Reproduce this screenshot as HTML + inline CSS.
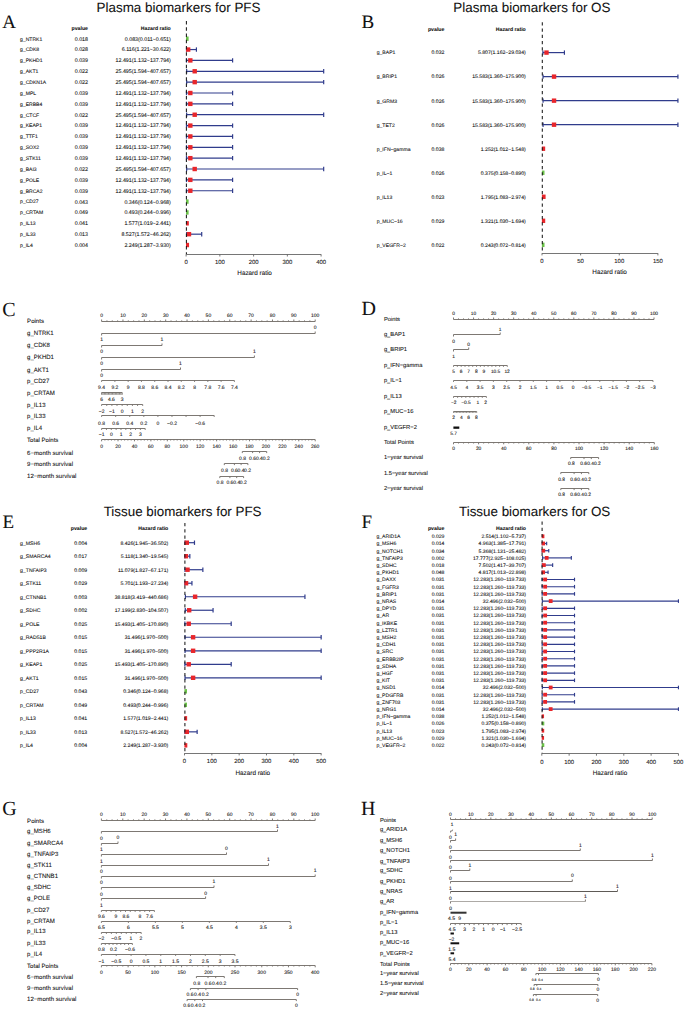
<!DOCTYPE html>
<html><head><meta charset="utf-8"><title>Biomarker forest plots and nomograms</title>
<style>
html,body{margin:0;padding:0;background:#fff;}
body{width:685px;height:1009px;overflow:hidden;}
svg{display:block;}
text{font-family:"Liberation Sans",sans-serif;fill:#111;text-rendering:geometricPrecision;stroke:#111;stroke-width:0.08px;}
text.lr{font-family:"Liberation Serif",serif;}
</style></head><body>
<svg width="685" height="1009" viewBox="0 0 685 1009">
<rect x="0" y="0" width="685" height="1009" fill="#fff"/>
<text x="96.60" y="11.53" font-size="13.42">Plasma biomarkers for PFS</text>
<text class="lr" x="2.30" y="28.30" font-size="19.00">A</text>
<text x="88.00" y="29.57" font-size="5.20" text-anchor="end" font-weight="bold">pvalue</text>
<text x="170.80" y="29.57" font-size="5.20" text-anchor="end" font-weight="bold">Hazard ratio</text>
<text x="20.10" y="40.52" font-size="5.05">g_NTRK1</text>
<text x="88.00" y="40.61" font-size="5.30" text-anchor="end">0.018</text>
<text x="170.80" y="40.61" font-size="5.30" text-anchor="end">0.083(0.011~0.651)</text>
<rect x="186.00" y="36.50" width="2.60" height="4.40" fill="#6cc24a"/>
<text x="20.10" y="51.38" font-size="5.05">g_CDK8</text>
<text x="88.00" y="51.47" font-size="5.30" text-anchor="end">0.028</text>
<text x="170.80" y="51.47" font-size="5.30" text-anchor="end">6.116(1.221~30.622)</text>
<line x1="186.51" y1="49.56" x2="196.43" y2="49.56" stroke="#303c8c" stroke-width="1.2"/>
<line x1="196.43" y1="47.36" x2="196.43" y2="51.76" stroke="#303c8c" stroke-width="1.2"/>
<line x1="186.51" y1="47.36" x2="186.51" y2="51.76" stroke="#303c8c" stroke-width="1.2"/>
<rect x="186.00" y="47.36" width="4.36" height="4.40" fill="#e8262b"/>
<text x="20.10" y="62.24" font-size="5.05">g_PKHD1</text>
<text x="88.00" y="62.33" font-size="5.30" text-anchor="end">0.039</text>
<text x="170.80" y="62.33" font-size="5.30" text-anchor="end">12.491(1.132~137.794)</text>
<line x1="186.48" y1="60.42" x2="232.61" y2="60.42" stroke="#303c8c" stroke-width="1.2"/>
<line x1="232.61" y1="58.22" x2="232.61" y2="62.62" stroke="#303c8c" stroke-width="1.2"/>
<line x1="186.48" y1="58.22" x2="186.48" y2="62.62" stroke="#303c8c" stroke-width="1.2"/>
<rect x="188.12" y="58.22" width="4.40" height="4.40" fill="#e8262b"/>
<text x="20.10" y="73.10" font-size="5.05">g_AKT1</text>
<text x="88.00" y="73.19" font-size="5.30" text-anchor="end">0.022</text>
<text x="170.80" y="73.19" font-size="5.30" text-anchor="end">25.495(1.594~407.657)</text>
<line x1="186.64" y1="71.28" x2="323.68" y2="71.28" stroke="#303c8c" stroke-width="1.2"/>
<line x1="323.68" y1="69.08" x2="323.68" y2="73.48" stroke="#303c8c" stroke-width="1.2"/>
<line x1="186.64" y1="69.08" x2="186.64" y2="73.48" stroke="#303c8c" stroke-width="1.2"/>
<rect x="192.50" y="69.08" width="4.40" height="4.40" fill="#e8262b"/>
<text x="20.10" y="83.96" font-size="5.05">g_CDKN1A</text>
<text x="88.00" y="84.05" font-size="5.30" text-anchor="end">0.022</text>
<text x="170.80" y="84.05" font-size="5.30" text-anchor="end">25.495(1.594~407.657)</text>
<line x1="186.64" y1="82.14" x2="323.68" y2="82.14" stroke="#303c8c" stroke-width="1.2"/>
<line x1="323.68" y1="79.94" x2="323.68" y2="84.34" stroke="#303c8c" stroke-width="1.2"/>
<line x1="186.64" y1="79.94" x2="186.64" y2="84.34" stroke="#303c8c" stroke-width="1.2"/>
<rect x="192.50" y="79.94" width="4.40" height="4.40" fill="#e8262b"/>
<text x="20.10" y="94.82" font-size="5.05">g_MPL</text>
<text x="88.00" y="94.91" font-size="5.30" text-anchor="end">0.039</text>
<text x="170.80" y="94.91" font-size="5.30" text-anchor="end">12.491(1.132~137.794)</text>
<line x1="186.48" y1="93.00" x2="232.61" y2="93.00" stroke="#303c8c" stroke-width="1.2"/>
<line x1="232.61" y1="90.80" x2="232.61" y2="95.20" stroke="#303c8c" stroke-width="1.2"/>
<line x1="186.48" y1="90.80" x2="186.48" y2="95.20" stroke="#303c8c" stroke-width="1.2"/>
<rect x="188.12" y="90.80" width="4.40" height="4.40" fill="#e8262b"/>
<text x="20.10" y="105.68" font-size="5.05">g_ERBB4</text>
<text x="88.00" y="105.77" font-size="5.30" text-anchor="end">0.039</text>
<text x="170.80" y="105.77" font-size="5.30" text-anchor="end">12.491(1.132~137.794)</text>
<line x1="186.48" y1="103.86" x2="232.61" y2="103.86" stroke="#303c8c" stroke-width="1.2"/>
<line x1="232.61" y1="101.66" x2="232.61" y2="106.06" stroke="#303c8c" stroke-width="1.2"/>
<line x1="186.48" y1="101.66" x2="186.48" y2="106.06" stroke="#303c8c" stroke-width="1.2"/>
<rect x="188.12" y="101.66" width="4.40" height="4.40" fill="#e8262b"/>
<text x="20.10" y="116.54" font-size="5.05">g_CTCF</text>
<text x="88.00" y="116.63" font-size="5.30" text-anchor="end">0.022</text>
<text x="170.80" y="116.63" font-size="5.30" text-anchor="end">25.495(1.594~407.657)</text>
<line x1="186.64" y1="114.72" x2="323.68" y2="114.72" stroke="#303c8c" stroke-width="1.2"/>
<line x1="323.68" y1="112.52" x2="323.68" y2="116.92" stroke="#303c8c" stroke-width="1.2"/>
<line x1="186.64" y1="112.52" x2="186.64" y2="116.92" stroke="#303c8c" stroke-width="1.2"/>
<rect x="192.50" y="112.52" width="4.40" height="4.40" fill="#e8262b"/>
<text x="20.10" y="127.40" font-size="5.05">g_KEAP1</text>
<text x="88.00" y="127.49" font-size="5.30" text-anchor="end">0.039</text>
<text x="170.80" y="127.49" font-size="5.30" text-anchor="end">12.491(1.132~137.794)</text>
<line x1="186.48" y1="125.58" x2="232.61" y2="125.58" stroke="#303c8c" stroke-width="1.2"/>
<line x1="232.61" y1="123.38" x2="232.61" y2="127.78" stroke="#303c8c" stroke-width="1.2"/>
<line x1="186.48" y1="123.38" x2="186.48" y2="127.78" stroke="#303c8c" stroke-width="1.2"/>
<rect x="188.12" y="123.38" width="4.40" height="4.40" fill="#e8262b"/>
<text x="20.10" y="138.26" font-size="5.05">g_TTF1</text>
<text x="88.00" y="138.35" font-size="5.30" text-anchor="end">0.039</text>
<text x="170.80" y="138.35" font-size="5.30" text-anchor="end">12.491(1.132~137.794)</text>
<line x1="186.48" y1="136.44" x2="232.61" y2="136.44" stroke="#303c8c" stroke-width="1.2"/>
<line x1="232.61" y1="134.24" x2="232.61" y2="138.64" stroke="#303c8c" stroke-width="1.2"/>
<line x1="186.48" y1="134.24" x2="186.48" y2="138.64" stroke="#303c8c" stroke-width="1.2"/>
<rect x="188.12" y="134.24" width="4.40" height="4.40" fill="#e8262b"/>
<text x="20.10" y="149.12" font-size="5.05">g_SOX2</text>
<text x="88.00" y="149.21" font-size="5.30" text-anchor="end">0.039</text>
<text x="170.80" y="149.21" font-size="5.30" text-anchor="end">12.491(1.132~137.794)</text>
<line x1="186.48" y1="147.30" x2="232.61" y2="147.30" stroke="#303c8c" stroke-width="1.2"/>
<line x1="232.61" y1="145.10" x2="232.61" y2="149.50" stroke="#303c8c" stroke-width="1.2"/>
<line x1="186.48" y1="145.10" x2="186.48" y2="149.50" stroke="#303c8c" stroke-width="1.2"/>
<rect x="188.12" y="145.10" width="4.40" height="4.40" fill="#e8262b"/>
<text x="20.10" y="159.98" font-size="5.05">g_STK11</text>
<text x="88.00" y="160.07" font-size="5.30" text-anchor="end">0.039</text>
<text x="170.80" y="160.07" font-size="5.30" text-anchor="end">12.491(1.132~137.794)</text>
<line x1="186.48" y1="158.16" x2="232.61" y2="158.16" stroke="#303c8c" stroke-width="1.2"/>
<line x1="232.61" y1="155.96" x2="232.61" y2="160.36" stroke="#303c8c" stroke-width="1.2"/>
<line x1="186.48" y1="155.96" x2="186.48" y2="160.36" stroke="#303c8c" stroke-width="1.2"/>
<rect x="188.12" y="155.96" width="4.40" height="4.40" fill="#e8262b"/>
<text x="20.10" y="170.84" font-size="5.05">g_BAI3</text>
<text x="88.00" y="170.93" font-size="5.30" text-anchor="end">0.022</text>
<text x="170.80" y="170.93" font-size="5.30" text-anchor="end">25.495(1.594~407.657)</text>
<line x1="186.64" y1="169.02" x2="323.68" y2="169.02" stroke="#303c8c" stroke-width="1.2"/>
<line x1="323.68" y1="166.82" x2="323.68" y2="171.22" stroke="#303c8c" stroke-width="1.2"/>
<line x1="186.64" y1="166.82" x2="186.64" y2="171.22" stroke="#303c8c" stroke-width="1.2"/>
<rect x="192.50" y="166.82" width="4.40" height="4.40" fill="#e8262b"/>
<text x="20.10" y="181.70" font-size="5.05">g_POLE</text>
<text x="88.00" y="181.79" font-size="5.30" text-anchor="end">0.039</text>
<text x="170.80" y="181.79" font-size="5.30" text-anchor="end">12.491(1.132~137.794)</text>
<line x1="186.48" y1="179.88" x2="232.61" y2="179.88" stroke="#303c8c" stroke-width="1.2"/>
<line x1="232.61" y1="177.68" x2="232.61" y2="182.08" stroke="#303c8c" stroke-width="1.2"/>
<line x1="186.48" y1="177.68" x2="186.48" y2="182.08" stroke="#303c8c" stroke-width="1.2"/>
<rect x="188.12" y="177.68" width="4.40" height="4.40" fill="#e8262b"/>
<text x="20.10" y="192.56" font-size="5.05">g_BRCA2</text>
<text x="88.00" y="192.65" font-size="5.30" text-anchor="end">0.039</text>
<text x="170.80" y="192.65" font-size="5.30" text-anchor="end">12.491(1.132~137.794)</text>
<line x1="186.48" y1="190.74" x2="232.61" y2="190.74" stroke="#303c8c" stroke-width="1.2"/>
<line x1="232.61" y1="188.54" x2="232.61" y2="192.94" stroke="#303c8c" stroke-width="1.2"/>
<line x1="186.48" y1="188.54" x2="186.48" y2="192.94" stroke="#303c8c" stroke-width="1.2"/>
<rect x="188.12" y="188.54" width="4.40" height="4.40" fill="#e8262b"/>
<text x="20.10" y="203.42" font-size="5.05">p_CD27</text>
<text x="88.00" y="203.51" font-size="5.30" text-anchor="end">0.043</text>
<text x="170.80" y="203.51" font-size="5.30" text-anchor="end">0.346(0.124~0.968)</text>
<rect x="186.00" y="199.40" width="2.60" height="4.40" fill="#6cc24a"/>
<text x="20.10" y="214.28" font-size="5.05">p_CRTAM</text>
<text x="88.00" y="214.37" font-size="5.30" text-anchor="end">0.049</text>
<text x="170.80" y="214.37" font-size="5.30" text-anchor="end">0.493(0.244~0.996)</text>
<rect x="186.00" y="210.26" width="2.60" height="4.40" fill="#6cc24a"/>
<text x="20.10" y="225.14" font-size="5.05">p_IL13</text>
<text x="88.00" y="225.23" font-size="5.30" text-anchor="end">0.041</text>
<text x="170.80" y="225.23" font-size="5.30" text-anchor="end">1.577(1.019~2.441)</text>
<rect x="186.00" y="221.12" width="2.83" height="4.40" fill="#e8262b"/>
<text x="20.10" y="236.00" font-size="5.05">p_IL33</text>
<text x="88.00" y="236.09" font-size="5.30" text-anchor="end">0.013</text>
<text x="170.80" y="236.09" font-size="5.30" text-anchor="end">8.527(1.572~46.262)</text>
<line x1="186.63" y1="234.18" x2="201.71" y2="234.18" stroke="#303c8c" stroke-width="1.2"/>
<line x1="201.71" y1="231.98" x2="201.71" y2="236.38" stroke="#303c8c" stroke-width="1.2"/>
<line x1="186.63" y1="231.98" x2="186.63" y2="236.38" stroke="#303c8c" stroke-width="1.2"/>
<rect x="186.78" y="231.98" width="4.40" height="4.40" fill="#e8262b"/>
<text x="20.10" y="246.86" font-size="5.05">p_IL4</text>
<text x="88.00" y="246.95" font-size="5.30" text-anchor="end">0.004</text>
<text x="170.80" y="246.95" font-size="5.30" text-anchor="end">2.249(1.287~3.930)</text>
<rect x="186.00" y="242.84" width="3.06" height="4.40" fill="#e8262b"/>
<line x1="186.40" y1="21.10" x2="186.40" y2="254.30" stroke="#1a1a1a" stroke-width="1.05" stroke-dasharray="3.3,2.95"/>
<line x1="186.10" y1="254.50" x2="321.10" y2="254.50" stroke="#666" stroke-width="0.9"/>
<line x1="186.10" y1="254.30" x2="186.10" y2="256.50" stroke="#666" stroke-width="0.9"/>
<text x="186.10" y="263.74" font-size="5.95" text-anchor="middle">0</text>
<line x1="219.85" y1="254.30" x2="219.85" y2="256.50" stroke="#666" stroke-width="0.9"/>
<text x="219.85" y="263.74" font-size="5.95" text-anchor="middle">100</text>
<line x1="253.60" y1="254.30" x2="253.60" y2="256.50" stroke="#666" stroke-width="0.9"/>
<text x="253.60" y="263.74" font-size="5.95" text-anchor="middle">200</text>
<line x1="287.35" y1="254.30" x2="287.35" y2="256.50" stroke="#666" stroke-width="0.9"/>
<text x="287.35" y="263.74" font-size="5.95" text-anchor="middle">300</text>
<line x1="321.10" y1="254.30" x2="321.10" y2="256.50" stroke="#666" stroke-width="0.9"/>
<text x="321.10" y="263.74" font-size="5.95" text-anchor="middle">400</text>
<text x="254.60" y="275.29" font-size="6.35" text-anchor="middle">Hazard ratio</text>
<text x="453.30" y="11.53" font-size="13.42">Plasma biomarkers for OS</text>
<text class="lr" x="361.60" y="28.40" font-size="19.00">B</text>
<text x="444.40" y="30.97" font-size="5.20" text-anchor="end" font-weight="bold">pvalue</text>
<text x="525.80" y="30.97" font-size="5.20" text-anchor="end" font-weight="bold">Hazard ratio</text>
<text x="376.70" y="54.44" font-size="5.10">g_BAP1</text>
<text x="444.40" y="54.45" font-size="5.15" text-anchor="end">0.032</text>
<text x="525.80" y="54.45" font-size="5.15" text-anchor="end">5.807(1.162~29.034)</text>
<line x1="542.90" y1="52.60" x2="564.43" y2="52.60" stroke="#303c8c" stroke-width="1.2"/>
<line x1="564.43" y1="50.40" x2="564.43" y2="54.80" stroke="#303c8c" stroke-width="1.2"/>
<line x1="542.90" y1="50.40" x2="542.90" y2="54.80" stroke="#303c8c" stroke-width="1.2"/>
<rect x="544.29" y="50.40" width="4.40" height="4.40" fill="#e8262b"/>
<text x="376.70" y="78.47" font-size="5.10">g_BRIP1</text>
<text x="444.40" y="78.48" font-size="5.15" text-anchor="end">0.026</text>
<text x="525.80" y="78.48" font-size="5.15" text-anchor="end">15.583(1.360~175.900)</text>
<line x1="543.05" y1="76.63" x2="677.92" y2="76.63" stroke="#303c8c" stroke-width="1.2"/>
<line x1="677.92" y1="74.43" x2="677.92" y2="78.83" stroke="#303c8c" stroke-width="1.2"/>
<line x1="543.05" y1="74.43" x2="543.05" y2="78.83" stroke="#303c8c" stroke-width="1.2"/>
<rect x="551.84" y="74.43" width="4.40" height="4.40" fill="#e8262b"/>
<text x="376.70" y="102.50" font-size="5.10">g_GRM3</text>
<text x="444.40" y="102.51" font-size="5.15" text-anchor="end">0.026</text>
<text x="525.80" y="102.51" font-size="5.15" text-anchor="end">15.583(1.360~175.900)</text>
<line x1="543.05" y1="100.66" x2="677.92" y2="100.66" stroke="#303c8c" stroke-width="1.2"/>
<line x1="677.92" y1="98.46" x2="677.92" y2="102.86" stroke="#303c8c" stroke-width="1.2"/>
<line x1="543.05" y1="98.46" x2="543.05" y2="102.86" stroke="#303c8c" stroke-width="1.2"/>
<rect x="551.84" y="98.46" width="4.40" height="4.40" fill="#e8262b"/>
<text x="376.70" y="126.53" font-size="5.10">g_TET2</text>
<text x="444.40" y="126.54" font-size="5.15" text-anchor="end">0.026</text>
<text x="525.80" y="126.54" font-size="5.15" text-anchor="end">15.583(1.360~175.900)</text>
<line x1="543.05" y1="124.69" x2="677.92" y2="124.69" stroke="#303c8c" stroke-width="1.2"/>
<line x1="677.92" y1="122.49" x2="677.92" y2="126.89" stroke="#303c8c" stroke-width="1.2"/>
<line x1="543.05" y1="122.49" x2="543.05" y2="126.89" stroke="#303c8c" stroke-width="1.2"/>
<rect x="551.84" y="122.49" width="4.40" height="4.40" fill="#e8262b"/>
<text x="376.70" y="150.56" font-size="5.10">p_IFN−gamma</text>
<text x="444.40" y="150.57" font-size="5.15" text-anchor="end">0.038</text>
<text x="525.80" y="150.57" font-size="5.15" text-anchor="end">1.252(1.012~1.548)</text>
<rect x="541.90" y="146.52" width="3.27" height="4.40" fill="#e8262b"/>
<text x="376.70" y="174.59" font-size="5.10">p_IL−1</text>
<text x="444.40" y="174.60" font-size="5.15" text-anchor="end">0.026</text>
<text x="525.80" y="174.60" font-size="5.15" text-anchor="end">0.375(0.158~0.890)</text>
<rect x="541.90" y="170.55" width="2.60" height="4.40" fill="#6cc24a"/>
<text x="376.70" y="198.62" font-size="5.10">p_IL13</text>
<text x="444.40" y="198.63" font-size="5.15" text-anchor="end">0.023</text>
<text x="525.80" y="198.63" font-size="5.15" text-anchor="end">1.795(1.083~2.974)</text>
<rect x="541.90" y="194.58" width="3.69" height="4.40" fill="#e8262b"/>
<text x="376.70" y="222.65" font-size="5.10">p_MUC−16</text>
<text x="444.40" y="222.66" font-size="5.15" text-anchor="end">0.029</text>
<text x="525.80" y="222.66" font-size="5.15" text-anchor="end">1.321(1.030~1.694)</text>
<rect x="541.90" y="218.61" width="3.32" height="4.40" fill="#e8262b"/>
<text x="376.70" y="246.68" font-size="5.10">p_VEGFR−2</text>
<text x="444.40" y="246.69" font-size="5.15" text-anchor="end">0.022</text>
<text x="525.80" y="246.69" font-size="5.15" text-anchor="end">0.243(0.072~0.814)</text>
<rect x="541.90" y="242.64" width="2.60" height="4.40" fill="#6cc24a"/>
<line x1="542.30" y1="22.20" x2="542.30" y2="253.20" stroke="#1a1a1a" stroke-width="1.05" stroke-dasharray="3.3,2.95"/>
<line x1="542.00" y1="253.50" x2="657.90" y2="253.50" stroke="#666" stroke-width="0.9"/>
<line x1="542.00" y1="253.20" x2="542.00" y2="255.40" stroke="#666" stroke-width="0.9"/>
<text x="542.00" y="262.74" font-size="5.95" text-anchor="middle">0</text>
<line x1="580.63" y1="253.20" x2="580.63" y2="255.40" stroke="#666" stroke-width="0.9"/>
<text x="580.63" y="262.74" font-size="5.95" text-anchor="middle">50</text>
<line x1="619.27" y1="253.20" x2="619.27" y2="255.40" stroke="#666" stroke-width="0.9"/>
<text x="619.27" y="262.74" font-size="5.95" text-anchor="middle">100</text>
<line x1="657.90" y1="253.20" x2="657.90" y2="255.40" stroke="#666" stroke-width="0.9"/>
<text x="657.90" y="262.74" font-size="5.95" text-anchor="middle">150</text>
<text x="609.60" y="273.99" font-size="6.35" text-anchor="middle">Hazard ratio</text>
<text x="103.70" y="516.02" font-size="13.38">Tissue biomarkers for PFS</text>
<text class="lr" x="2.60" y="528.40" font-size="19.00">E</text>
<text x="87.20" y="530.27" font-size="5.20" text-anchor="end" font-weight="bold">pvalue</text>
<text x="168.30" y="530.27" font-size="5.20" text-anchor="end" font-weight="bold">Hazard ratio</text>
<text x="20.10" y="544.55" font-size="5.15">g_MSH6</text>
<text x="87.20" y="544.55" font-size="5.15" text-anchor="end">0.004</text>
<text x="168.30" y="544.55" font-size="5.15" text-anchor="end">8.426(1.945~36.502)</text>
<line x1="185.03" y1="542.70" x2="194.48" y2="542.70" stroke="#303c8c" stroke-width="1.2"/>
<line x1="194.48" y1="540.50" x2="194.48" y2="544.90" stroke="#303c8c" stroke-width="1.2"/>
<line x1="185.03" y1="540.50" x2="185.03" y2="544.90" stroke="#303c8c" stroke-width="1.2"/>
<rect x="184.60" y="540.50" width="4.40" height="4.40" fill="#e8262b"/>
<text x="20.10" y="558.06" font-size="5.15">g_SMARCA4</text>
<text x="87.20" y="558.06" font-size="5.15" text-anchor="end">0.017</text>
<text x="168.30" y="558.06" font-size="5.15" text-anchor="end">5.118(1.340~19.545)</text>
<line x1="184.87" y1="556.21" x2="189.84" y2="556.21" stroke="#303c8c" stroke-width="1.2"/>
<line x1="189.84" y1="554.01" x2="189.84" y2="558.41" stroke="#303c8c" stroke-width="1.2"/>
<line x1="184.87" y1="554.01" x2="184.87" y2="558.41" stroke="#303c8c" stroke-width="1.2"/>
<rect x="184.40" y="554.01" width="3.70" height="4.40" fill="#e8262b"/>
<text x="20.10" y="571.57" font-size="5.15">g_TNFAIP3</text>
<text x="87.20" y="571.57" font-size="5.15" text-anchor="end">0.009</text>
<text x="168.30" y="571.57" font-size="5.15" text-anchor="end">11.079(1.827~67.171)</text>
<line x1="185.00" y1="569.72" x2="202.86" y2="569.72" stroke="#303c8c" stroke-width="1.2"/>
<line x1="202.86" y1="567.52" x2="202.86" y2="571.92" stroke="#303c8c" stroke-width="1.2"/>
<line x1="185.00" y1="567.52" x2="185.00" y2="571.92" stroke="#303c8c" stroke-width="1.2"/>
<rect x="185.33" y="567.52" width="4.40" height="4.40" fill="#e8262b"/>
<text x="20.10" y="585.08" font-size="5.15">g_STK11</text>
<text x="87.20" y="585.08" font-size="5.15" text-anchor="end">0.029</text>
<text x="168.30" y="585.08" font-size="5.15" text-anchor="end">5.701(1.193~27.234)</text>
<line x1="184.83" y1="583.23" x2="191.94" y2="583.23" stroke="#303c8c" stroke-width="1.2"/>
<line x1="191.94" y1="581.03" x2="191.94" y2="585.43" stroke="#303c8c" stroke-width="1.2"/>
<line x1="184.83" y1="581.03" x2="184.83" y2="585.43" stroke="#303c8c" stroke-width="1.2"/>
<rect x="184.40" y="581.03" width="3.86" height="4.40" fill="#e8262b"/>
<text x="20.10" y="598.59" font-size="5.15">g_CTNNB1</text>
<text x="87.20" y="598.59" font-size="5.15" text-anchor="end">0.003</text>
<text x="168.30" y="598.59" font-size="5.15" text-anchor="end">38.818(3.419~440.686)</text>
<line x1="185.43" y1="596.74" x2="304.94" y2="596.74" stroke="#303c8c" stroke-width="1.2"/>
<line x1="304.94" y1="594.54" x2="304.94" y2="598.94" stroke="#303c8c" stroke-width="1.2"/>
<line x1="185.43" y1="594.54" x2="185.43" y2="598.94" stroke="#303c8c" stroke-width="1.2"/>
<rect x="192.91" y="594.54" width="4.40" height="4.40" fill="#e8262b"/>
<text x="20.10" y="612.10" font-size="5.15">g_SDHC</text>
<text x="87.20" y="612.10" font-size="5.15" text-anchor="end">0.002</text>
<text x="168.30" y="612.10" font-size="5.15" text-anchor="end">17.199(2.830~104.507)</text>
<line x1="185.27" y1="610.25" x2="213.06" y2="610.25" stroke="#303c8c" stroke-width="1.2"/>
<line x1="213.06" y1="608.05" x2="213.06" y2="612.45" stroke="#303c8c" stroke-width="1.2"/>
<line x1="185.27" y1="608.05" x2="185.27" y2="612.45" stroke="#303c8c" stroke-width="1.2"/>
<rect x="187.00" y="608.05" width="4.40" height="4.40" fill="#e8262b"/>
<text x="20.10" y="625.61" font-size="5.15">g_POLE</text>
<text x="87.20" y="625.61" font-size="5.15" text-anchor="end">0.025</text>
<text x="168.30" y="625.61" font-size="5.15" text-anchor="end">15.493(1.405~170.890)</text>
<line x1="184.88" y1="623.76" x2="231.20" y2="623.76" stroke="#303c8c" stroke-width="1.2"/>
<line x1="231.20" y1="621.56" x2="231.20" y2="625.96" stroke="#303c8c" stroke-width="1.2"/>
<line x1="184.88" y1="621.56" x2="184.88" y2="625.96" stroke="#303c8c" stroke-width="1.2"/>
<rect x="186.53" y="621.56" width="4.40" height="4.40" fill="#e8262b"/>
<text x="20.10" y="639.12" font-size="5.15">g_RAD51B</text>
<text x="87.20" y="639.12" font-size="5.15" text-anchor="end">0.015</text>
<text x="168.30" y="639.12" font-size="5.15" text-anchor="end">31.496(1.970~500)</text>
<line x1="185.04" y1="637.27" x2="321.15" y2="637.27" stroke="#303c8c" stroke-width="1.2"/>
<line x1="321.15" y1="635.07" x2="321.15" y2="639.47" stroke="#303c8c" stroke-width="1.2"/>
<line x1="185.04" y1="635.07" x2="185.04" y2="639.47" stroke="#303c8c" stroke-width="1.2"/>
<rect x="190.91" y="635.07" width="4.40" height="4.40" fill="#e8262b"/>
<text x="20.10" y="652.63" font-size="5.15">g_PPP2R1A</text>
<text x="87.20" y="652.63" font-size="5.15" text-anchor="end">0.015</text>
<text x="168.30" y="652.63" font-size="5.15" text-anchor="end">31.496(1.970~500)</text>
<line x1="185.04" y1="650.78" x2="321.15" y2="650.78" stroke="#303c8c" stroke-width="1.2"/>
<line x1="321.15" y1="648.58" x2="321.15" y2="652.98" stroke="#303c8c" stroke-width="1.2"/>
<line x1="185.04" y1="648.58" x2="185.04" y2="652.98" stroke="#303c8c" stroke-width="1.2"/>
<rect x="190.91" y="648.58" width="4.40" height="4.40" fill="#e8262b"/>
<text x="20.10" y="666.14" font-size="5.15">g_KEAP1</text>
<text x="87.20" y="666.14" font-size="5.15" text-anchor="end">0.025</text>
<text x="168.30" y="666.14" font-size="5.15" text-anchor="end">15.493(1.405~170.890)</text>
<line x1="184.88" y1="664.29" x2="231.20" y2="664.29" stroke="#303c8c" stroke-width="1.2"/>
<line x1="231.20" y1="662.09" x2="231.20" y2="666.49" stroke="#303c8c" stroke-width="1.2"/>
<line x1="184.88" y1="662.09" x2="184.88" y2="666.49" stroke="#303c8c" stroke-width="1.2"/>
<rect x="186.53" y="662.09" width="4.40" height="4.40" fill="#e8262b"/>
<text x="20.10" y="679.65" font-size="5.15">g_AKT1</text>
<text x="87.20" y="679.65" font-size="5.15" text-anchor="end">0.015</text>
<text x="168.30" y="679.65" font-size="5.15" text-anchor="end">31.496(1.970~500)</text>
<line x1="185.04" y1="677.80" x2="321.15" y2="677.80" stroke="#303c8c" stroke-width="1.2"/>
<line x1="321.15" y1="675.60" x2="321.15" y2="680.00" stroke="#303c8c" stroke-width="1.2"/>
<line x1="185.04" y1="675.60" x2="185.04" y2="680.00" stroke="#303c8c" stroke-width="1.2"/>
<rect x="190.91" y="675.60" width="4.40" height="4.40" fill="#e8262b"/>
<text x="20.10" y="693.16" font-size="5.15">p_CD27</text>
<text x="87.20" y="693.16" font-size="5.15" text-anchor="end">0.043</text>
<text x="168.30" y="693.16" font-size="5.15" text-anchor="end">0.346(0.124~0.968)</text>
<rect x="184.40" y="689.11" width="2.60" height="4.40" fill="#6cc24a"/>
<text x="20.10" y="706.67" font-size="5.15">p_CRTAM</text>
<text x="87.20" y="706.67" font-size="5.15" text-anchor="end">0.049</text>
<text x="168.30" y="706.67" font-size="5.15" text-anchor="end">0.493(0.244~0.996)</text>
<rect x="184.40" y="702.62" width="2.60" height="4.40" fill="#6cc24a"/>
<text x="20.10" y="720.18" font-size="5.15">p_IL13</text>
<text x="87.20" y="720.18" font-size="5.15" text-anchor="end">0.041</text>
<text x="168.30" y="720.18" font-size="5.15" text-anchor="end">1.577(1.019~2.441)</text>
<rect x="184.40" y="716.13" width="2.73" height="4.40" fill="#e8262b"/>
<text x="20.10" y="733.69" font-size="5.15">p_IL33</text>
<text x="87.20" y="733.69" font-size="5.15" text-anchor="end">0.013</text>
<text x="168.30" y="733.69" font-size="5.15" text-anchor="end">8.527(1.572~46.262)</text>
<line x1="184.93" y1="731.84" x2="197.14" y2="731.84" stroke="#303c8c" stroke-width="1.2"/>
<line x1="197.14" y1="729.64" x2="197.14" y2="734.04" stroke="#303c8c" stroke-width="1.2"/>
<line x1="184.93" y1="729.64" x2="184.93" y2="734.04" stroke="#303c8c" stroke-width="1.2"/>
<rect x="184.63" y="729.64" width="4.40" height="4.40" fill="#e8262b"/>
<text x="20.10" y="747.20" font-size="5.15">p_IL4</text>
<text x="87.20" y="747.20" font-size="5.15" text-anchor="end">0.004</text>
<text x="168.30" y="747.20" font-size="5.15" text-anchor="end">2.249(1.287~3.930)</text>
<rect x="184.40" y="743.15" width="2.91" height="4.40" fill="#e8262b"/>
<line x1="184.90" y1="523.00" x2="184.90" y2="753.20" stroke="#1a1a1a" stroke-width="1.05" stroke-dasharray="3.3,2.95"/>
<line x1="184.50" y1="753.50" x2="321.15" y2="753.50" stroke="#666" stroke-width="0.9"/>
<line x1="184.50" y1="753.20" x2="184.50" y2="755.40" stroke="#666" stroke-width="0.9"/>
<text x="184.50" y="763.04" font-size="5.95" text-anchor="middle">0</text>
<line x1="211.83" y1="753.20" x2="211.83" y2="755.40" stroke="#666" stroke-width="0.9"/>
<text x="211.83" y="763.04" font-size="5.95" text-anchor="middle">100</text>
<line x1="239.16" y1="753.20" x2="239.16" y2="755.40" stroke="#666" stroke-width="0.9"/>
<text x="239.16" y="763.04" font-size="5.95" text-anchor="middle">200</text>
<line x1="266.49" y1="753.20" x2="266.49" y2="755.40" stroke="#666" stroke-width="0.9"/>
<text x="266.49" y="763.04" font-size="5.95" text-anchor="middle">300</text>
<line x1="293.82" y1="753.20" x2="293.82" y2="755.40" stroke="#666" stroke-width="0.9"/>
<text x="293.82" y="763.04" font-size="5.95" text-anchor="middle">400</text>
<line x1="321.15" y1="753.20" x2="321.15" y2="755.40" stroke="#666" stroke-width="0.9"/>
<text x="321.15" y="763.04" font-size="5.95" text-anchor="middle">500</text>
<text x="252.80" y="774.79" font-size="6.35" text-anchor="middle">Hazard ratio</text>
<text x="459.00" y="516.02" font-size="13.40">Tissue biomarkers for OS</text>
<text class="lr" x="361.60" y="528.10" font-size="19.00">F</text>
<text x="444.40" y="530.27" font-size="5.20" text-anchor="end" font-weight="bold">pvalue</text>
<text x="526.00" y="530.27" font-size="5.20" text-anchor="end" font-weight="bold">Hazard ratio</text>
<text x="376.40" y="538.14" font-size="5.10">g_ARID1A</text>
<text x="444.40" y="538.14" font-size="5.10" text-anchor="end">0.029</text>
<text x="526.00" y="538.14" font-size="5.10" text-anchor="end">2.514(1.102~5.737)</text>
<rect x="541.70" y="534.40" width="2.69" height="3.80" fill="#e8262b"/>
<text x="376.40" y="545.34" font-size="5.10">g_MSH6</text>
<text x="444.40" y="545.34" font-size="5.10" text-anchor="end">0.014</text>
<text x="526.00" y="545.34" font-size="5.10" text-anchor="end">4.963(1.385~17.791)</text>
<line x1="542.18" y1="543.50" x2="546.66" y2="543.50" stroke="#303c8c" stroke-width="1.15"/>
<line x1="546.66" y1="541.70" x2="546.66" y2="545.30" stroke="#303c8c" stroke-width="1.15"/>
<line x1="542.18" y1="541.70" x2="542.18" y2="545.30" stroke="#303c8c" stroke-width="1.15"/>
<rect x="541.70" y="541.60" width="3.36" height="3.80" fill="#e8262b"/>
<text x="376.40" y="552.54" font-size="5.10">g_NOTCH1</text>
<text x="444.40" y="552.54" font-size="5.10" text-anchor="end">0.034</text>
<text x="526.00" y="552.54" font-size="5.10" text-anchor="end">5.368(1.131~25.482)</text>
<line x1="542.11" y1="550.70" x2="548.76" y2="550.70" stroke="#303c8c" stroke-width="1.15"/>
<line x1="548.76" y1="548.90" x2="548.76" y2="552.50" stroke="#303c8c" stroke-width="1.15"/>
<line x1="542.11" y1="548.90" x2="542.11" y2="552.50" stroke="#303c8c" stroke-width="1.15"/>
<rect x="541.70" y="548.80" width="3.47" height="3.80" fill="#e8262b"/>
<text x="376.40" y="559.74" font-size="5.10">g_TNFAIP3</text>
<text x="444.40" y="559.74" font-size="5.10" text-anchor="end">0.002</text>
<text x="526.00" y="559.74" font-size="5.10" text-anchor="end">17.777(2.925~108.025)</text>
<line x1="542.60" y1="557.90" x2="571.32" y2="557.90" stroke="#303c8c" stroke-width="1.15"/>
<line x1="571.32" y1="556.10" x2="571.32" y2="559.70" stroke="#303c8c" stroke-width="1.15"/>
<line x1="542.60" y1="556.10" x2="542.60" y2="559.70" stroke="#303c8c" stroke-width="1.15"/>
<rect x="544.76" y="556.00" width="3.80" height="3.80" fill="#e8262b"/>
<text x="376.40" y="566.94" font-size="5.10">g_SDHC</text>
<text x="444.40" y="566.94" font-size="5.10" text-anchor="end">0.018</text>
<text x="526.00" y="566.94" font-size="5.10" text-anchor="end">7.502(1.417~39.707)</text>
<line x1="542.19" y1="565.10" x2="552.65" y2="565.10" stroke="#303c8c" stroke-width="1.15"/>
<line x1="552.65" y1="563.30" x2="552.65" y2="566.90" stroke="#303c8c" stroke-width="1.15"/>
<line x1="542.19" y1="563.30" x2="542.19" y2="566.90" stroke="#303c8c" stroke-width="1.15"/>
<rect x="541.95" y="563.20" width="3.80" height="3.80" fill="#e8262b"/>
<text x="376.40" y="574.14" font-size="5.10">g_PKHD1</text>
<text x="444.40" y="574.14" font-size="5.10" text-anchor="end">0.048</text>
<text x="526.00" y="574.14" font-size="5.10" text-anchor="end">4.817(1.013~22.898)</text>
<line x1="542.08" y1="572.30" x2="548.06" y2="572.30" stroke="#303c8c" stroke-width="1.15"/>
<line x1="548.06" y1="570.50" x2="548.06" y2="574.10" stroke="#303c8c" stroke-width="1.15"/>
<line x1="542.08" y1="570.50" x2="542.08" y2="574.10" stroke="#303c8c" stroke-width="1.15"/>
<rect x="541.70" y="570.40" width="3.32" height="3.80" fill="#e8262b"/>
<text x="376.40" y="581.34" font-size="5.10">g_DAXX</text>
<text x="444.40" y="581.34" font-size="5.10" text-anchor="end">0.031</text>
<text x="526.00" y="581.34" font-size="5.10" text-anchor="end">12.283(1.260~119.733)</text>
<line x1="542.14" y1="579.50" x2="574.52" y2="579.50" stroke="#303c8c" stroke-width="1.15"/>
<line x1="574.52" y1="577.70" x2="574.52" y2="581.30" stroke="#303c8c" stroke-width="1.15"/>
<line x1="542.14" y1="577.70" x2="542.14" y2="581.30" stroke="#303c8c" stroke-width="1.15"/>
<rect x="543.26" y="577.60" width="3.80" height="3.80" fill="#e8262b"/>
<text x="376.40" y="588.54" font-size="5.10">g_FGFR3</text>
<text x="444.40" y="588.54" font-size="5.10" text-anchor="end">0.031</text>
<text x="526.00" y="588.54" font-size="5.10" text-anchor="end">12.283(1.260~119.733)</text>
<line x1="542.14" y1="586.70" x2="574.52" y2="586.70" stroke="#303c8c" stroke-width="1.15"/>
<line x1="574.52" y1="584.90" x2="574.52" y2="588.50" stroke="#303c8c" stroke-width="1.15"/>
<line x1="542.14" y1="584.90" x2="542.14" y2="588.50" stroke="#303c8c" stroke-width="1.15"/>
<rect x="543.26" y="584.80" width="3.80" height="3.80" fill="#e8262b"/>
<text x="376.40" y="595.74" font-size="5.10">g_BRIP1</text>
<text x="444.40" y="595.74" font-size="5.10" text-anchor="end">0.031</text>
<text x="526.00" y="595.74" font-size="5.10" text-anchor="end">12.283(1.260~119.733)</text>
<line x1="542.14" y1="593.90" x2="574.52" y2="593.90" stroke="#303c8c" stroke-width="1.15"/>
<line x1="574.52" y1="592.10" x2="574.52" y2="595.70" stroke="#303c8c" stroke-width="1.15"/>
<line x1="542.14" y1="592.10" x2="542.14" y2="595.70" stroke="#303c8c" stroke-width="1.15"/>
<rect x="543.26" y="592.00" width="3.80" height="3.80" fill="#e8262b"/>
<text x="376.40" y="602.94" font-size="5.10">g_NRAS</text>
<text x="444.40" y="602.94" font-size="5.10" text-anchor="end">0.014</text>
<text x="526.00" y="602.94" font-size="5.10" text-anchor="end">32.496(2.032~500)</text>
<line x1="542.36" y1="601.10" x2="678.45" y2="601.10" stroke="#303c8c" stroke-width="1.15"/>
<line x1="678.45" y1="599.30" x2="678.45" y2="602.90" stroke="#303c8c" stroke-width="1.15"/>
<line x1="542.36" y1="599.30" x2="542.36" y2="602.90" stroke="#303c8c" stroke-width="1.15"/>
<rect x="548.78" y="599.20" width="3.80" height="3.80" fill="#e8262b"/>
<text x="376.40" y="610.14" font-size="5.10">g_DPYD</text>
<text x="444.40" y="610.14" font-size="5.10" text-anchor="end">0.031</text>
<text x="526.00" y="610.14" font-size="5.10" text-anchor="end">12.283(1.260~119.733)</text>
<line x1="542.14" y1="608.30" x2="574.52" y2="608.30" stroke="#303c8c" stroke-width="1.15"/>
<line x1="574.52" y1="606.50" x2="574.52" y2="610.10" stroke="#303c8c" stroke-width="1.15"/>
<line x1="542.14" y1="606.50" x2="542.14" y2="610.10" stroke="#303c8c" stroke-width="1.15"/>
<rect x="543.26" y="606.40" width="3.80" height="3.80" fill="#e8262b"/>
<text x="376.40" y="617.34" font-size="5.10">g_AR</text>
<text x="444.40" y="617.34" font-size="5.10" text-anchor="end">0.031</text>
<text x="526.00" y="617.34" font-size="5.10" text-anchor="end">12.283(1.260~119.733)</text>
<line x1="542.14" y1="615.50" x2="574.52" y2="615.50" stroke="#303c8c" stroke-width="1.15"/>
<line x1="574.52" y1="613.70" x2="574.52" y2="617.30" stroke="#303c8c" stroke-width="1.15"/>
<line x1="542.14" y1="613.70" x2="542.14" y2="617.30" stroke="#303c8c" stroke-width="1.15"/>
<rect x="543.26" y="613.60" width="3.80" height="3.80" fill="#e8262b"/>
<text x="376.40" y="624.54" font-size="5.10">g_IKBKE</text>
<text x="444.40" y="624.54" font-size="5.10" text-anchor="end">0.031</text>
<text x="526.00" y="624.54" font-size="5.10" text-anchor="end">12.283(1.260~119.733)</text>
<line x1="542.14" y1="622.70" x2="574.52" y2="622.70" stroke="#303c8c" stroke-width="1.15"/>
<line x1="574.52" y1="620.90" x2="574.52" y2="624.50" stroke="#303c8c" stroke-width="1.15"/>
<line x1="542.14" y1="620.90" x2="542.14" y2="624.50" stroke="#303c8c" stroke-width="1.15"/>
<rect x="543.26" y="620.80" width="3.80" height="3.80" fill="#e8262b"/>
<text x="376.40" y="631.74" font-size="5.10">g_LZTR1</text>
<text x="444.40" y="631.74" font-size="5.10" text-anchor="end">0.031</text>
<text x="526.00" y="631.74" font-size="5.10" text-anchor="end">12.283(1.260~119.733)</text>
<line x1="542.14" y1="629.90" x2="574.52" y2="629.90" stroke="#303c8c" stroke-width="1.15"/>
<line x1="574.52" y1="628.10" x2="574.52" y2="631.70" stroke="#303c8c" stroke-width="1.15"/>
<line x1="542.14" y1="628.10" x2="542.14" y2="631.70" stroke="#303c8c" stroke-width="1.15"/>
<rect x="543.26" y="628.00" width="3.80" height="3.80" fill="#e8262b"/>
<text x="376.40" y="638.94" font-size="5.10">g_MSH2</text>
<text x="444.40" y="638.94" font-size="5.10" text-anchor="end">0.031</text>
<text x="526.00" y="638.94" font-size="5.10" text-anchor="end">12.283(1.260~119.733)</text>
<line x1="542.14" y1="637.10" x2="574.52" y2="637.10" stroke="#303c8c" stroke-width="1.15"/>
<line x1="574.52" y1="635.30" x2="574.52" y2="638.90" stroke="#303c8c" stroke-width="1.15"/>
<line x1="542.14" y1="635.30" x2="542.14" y2="638.90" stroke="#303c8c" stroke-width="1.15"/>
<rect x="543.26" y="635.20" width="3.80" height="3.80" fill="#e8262b"/>
<text x="376.40" y="646.14" font-size="5.10">g_CDH1</text>
<text x="444.40" y="646.14" font-size="5.10" text-anchor="end">0.031</text>
<text x="526.00" y="646.14" font-size="5.10" text-anchor="end">12.283(1.260~119.733)</text>
<line x1="542.14" y1="644.30" x2="574.52" y2="644.30" stroke="#303c8c" stroke-width="1.15"/>
<line x1="574.52" y1="642.50" x2="574.52" y2="646.10" stroke="#303c8c" stroke-width="1.15"/>
<line x1="542.14" y1="642.50" x2="542.14" y2="646.10" stroke="#303c8c" stroke-width="1.15"/>
<rect x="543.26" y="642.40" width="3.80" height="3.80" fill="#e8262b"/>
<text x="376.40" y="653.34" font-size="5.10">g_SRC</text>
<text x="444.40" y="653.34" font-size="5.10" text-anchor="end">0.031</text>
<text x="526.00" y="653.34" font-size="5.10" text-anchor="end">12.283(1.260~119.733)</text>
<line x1="542.14" y1="651.50" x2="574.52" y2="651.50" stroke="#303c8c" stroke-width="1.15"/>
<line x1="574.52" y1="649.70" x2="574.52" y2="653.30" stroke="#303c8c" stroke-width="1.15"/>
<line x1="542.14" y1="649.70" x2="542.14" y2="653.30" stroke="#303c8c" stroke-width="1.15"/>
<rect x="543.26" y="649.60" width="3.80" height="3.80" fill="#e8262b"/>
<text x="376.40" y="660.54" font-size="5.10">g_ERBB2IP</text>
<text x="444.40" y="660.54" font-size="5.10" text-anchor="end">0.031</text>
<text x="526.00" y="660.54" font-size="5.10" text-anchor="end">12.283(1.260~119.733)</text>
<line x1="542.14" y1="658.70" x2="574.52" y2="658.70" stroke="#303c8c" stroke-width="1.15"/>
<line x1="574.52" y1="656.90" x2="574.52" y2="660.50" stroke="#303c8c" stroke-width="1.15"/>
<line x1="542.14" y1="656.90" x2="542.14" y2="660.50" stroke="#303c8c" stroke-width="1.15"/>
<rect x="543.26" y="656.80" width="3.80" height="3.80" fill="#e8262b"/>
<text x="376.40" y="667.74" font-size="5.10">g_SDHA</text>
<text x="444.40" y="667.74" font-size="5.10" text-anchor="end">0.031</text>
<text x="526.00" y="667.74" font-size="5.10" text-anchor="end">12.283(1.260~119.733)</text>
<line x1="542.14" y1="665.90" x2="574.52" y2="665.90" stroke="#303c8c" stroke-width="1.15"/>
<line x1="574.52" y1="664.10" x2="574.52" y2="667.70" stroke="#303c8c" stroke-width="1.15"/>
<line x1="542.14" y1="664.10" x2="542.14" y2="667.70" stroke="#303c8c" stroke-width="1.15"/>
<rect x="543.26" y="664.00" width="3.80" height="3.80" fill="#e8262b"/>
<text x="376.40" y="674.94" font-size="5.10">g_HGF</text>
<text x="444.40" y="674.94" font-size="5.10" text-anchor="end">0.031</text>
<text x="526.00" y="674.94" font-size="5.10" text-anchor="end">12.283(1.260~119.733)</text>
<line x1="542.14" y1="673.10" x2="574.52" y2="673.10" stroke="#303c8c" stroke-width="1.15"/>
<line x1="574.52" y1="671.30" x2="574.52" y2="674.90" stroke="#303c8c" stroke-width="1.15"/>
<line x1="542.14" y1="671.30" x2="542.14" y2="674.90" stroke="#303c8c" stroke-width="1.15"/>
<rect x="543.26" y="671.20" width="3.80" height="3.80" fill="#e8262b"/>
<text x="376.40" y="682.14" font-size="5.10">g_KIT</text>
<text x="444.40" y="682.14" font-size="5.10" text-anchor="end">0.031</text>
<text x="526.00" y="682.14" font-size="5.10" text-anchor="end">12.283(1.260~119.733)</text>
<line x1="542.14" y1="680.30" x2="574.52" y2="680.30" stroke="#303c8c" stroke-width="1.15"/>
<line x1="574.52" y1="678.50" x2="574.52" y2="682.10" stroke="#303c8c" stroke-width="1.15"/>
<line x1="542.14" y1="678.50" x2="542.14" y2="682.10" stroke="#303c8c" stroke-width="1.15"/>
<rect x="543.26" y="678.40" width="3.80" height="3.80" fill="#e8262b"/>
<text x="376.40" y="689.34" font-size="5.10">g_NSD1</text>
<text x="444.40" y="689.34" font-size="5.10" text-anchor="end">0.014</text>
<text x="526.00" y="689.34" font-size="5.10" text-anchor="end">32.496(2.032~500)</text>
<line x1="542.36" y1="687.50" x2="678.45" y2="687.50" stroke="#303c8c" stroke-width="1.15"/>
<line x1="678.45" y1="685.70" x2="678.45" y2="689.30" stroke="#303c8c" stroke-width="1.15"/>
<line x1="542.36" y1="685.70" x2="542.36" y2="689.30" stroke="#303c8c" stroke-width="1.15"/>
<rect x="548.78" y="685.60" width="3.80" height="3.80" fill="#e8262b"/>
<text x="376.40" y="696.54" font-size="5.10">g_PDGFRB</text>
<text x="444.40" y="696.54" font-size="5.10" text-anchor="end">0.031</text>
<text x="526.00" y="696.54" font-size="5.10" text-anchor="end">12.283(1.260~119.733)</text>
<line x1="542.14" y1="694.70" x2="574.52" y2="694.70" stroke="#303c8c" stroke-width="1.15"/>
<line x1="574.52" y1="692.90" x2="574.52" y2="696.50" stroke="#303c8c" stroke-width="1.15"/>
<line x1="542.14" y1="692.90" x2="542.14" y2="696.50" stroke="#303c8c" stroke-width="1.15"/>
<rect x="543.26" y="692.80" width="3.80" height="3.80" fill="#e8262b"/>
<text x="376.40" y="703.74" font-size="5.10">g_ZNF703</text>
<text x="444.40" y="703.74" font-size="5.10" text-anchor="end">0.031</text>
<text x="526.00" y="703.74" font-size="5.10" text-anchor="end">12.283(1.260~119.733)</text>
<line x1="542.14" y1="701.90" x2="574.52" y2="701.90" stroke="#303c8c" stroke-width="1.15"/>
<line x1="574.52" y1="700.10" x2="574.52" y2="703.70" stroke="#303c8c" stroke-width="1.15"/>
<line x1="542.14" y1="700.10" x2="542.14" y2="703.70" stroke="#303c8c" stroke-width="1.15"/>
<rect x="543.26" y="700.00" width="3.80" height="3.80" fill="#e8262b"/>
<text x="376.40" y="710.94" font-size="5.10">g_NRG1</text>
<text x="444.40" y="710.94" font-size="5.10" text-anchor="end">0.014</text>
<text x="526.00" y="710.94" font-size="5.10" text-anchor="end">32.496(2.032~500)</text>
<line x1="542.36" y1="709.10" x2="678.45" y2="709.10" stroke="#303c8c" stroke-width="1.15"/>
<line x1="678.45" y1="707.30" x2="678.45" y2="710.90" stroke="#303c8c" stroke-width="1.15"/>
<line x1="542.36" y1="707.30" x2="542.36" y2="710.90" stroke="#303c8c" stroke-width="1.15"/>
<rect x="548.78" y="707.20" width="3.80" height="3.80" fill="#e8262b"/>
<text x="376.40" y="718.14" font-size="5.10">p_IFN−gamma</text>
<text x="444.40" y="718.14" font-size="5.10" text-anchor="end">0.038</text>
<text x="526.00" y="718.14" font-size="5.10" text-anchor="end">1.252(1.012~1.548)</text>
<rect x="541.70" y="714.40" width="2.34" height="3.80" fill="#e8262b"/>
<text x="376.40" y="725.34" font-size="5.10">p_IL−1</text>
<text x="444.40" y="725.34" font-size="5.10" text-anchor="end">0.026</text>
<text x="526.00" y="725.34" font-size="5.10" text-anchor="end">0.375(0.158~0.890)</text>
<rect x="541.70" y="721.60" width="2.60" height="3.80" fill="#6cc24a"/>
<text x="376.40" y="732.54" font-size="5.10">p_IL13</text>
<text x="444.40" y="732.54" font-size="5.10" text-anchor="end">0.023</text>
<text x="526.00" y="732.54" font-size="5.10" text-anchor="end">1.795(1.083~2.974)</text>
<rect x="541.70" y="728.80" width="2.49" height="3.80" fill="#e8262b"/>
<text x="376.40" y="739.74" font-size="5.10">p_MUC−16</text>
<text x="444.40" y="739.74" font-size="5.10" text-anchor="end">0.029</text>
<text x="526.00" y="739.74" font-size="5.10" text-anchor="end">1.321(1.030~1.694)</text>
<rect x="541.70" y="736.00" width="2.36" height="3.80" fill="#e8262b"/>
<text x="376.40" y="746.94" font-size="5.10">p_VEGFR−2</text>
<text x="444.40" y="746.94" font-size="5.10" text-anchor="end">0.022</text>
<text x="526.00" y="746.94" font-size="5.10" text-anchor="end">0.243(0.072~0.814)</text>
<rect x="541.70" y="743.20" width="2.60" height="3.80" fill="#6cc24a"/>
<line x1="542.10" y1="521.50" x2="542.10" y2="753.50" stroke="#1a1a1a" stroke-width="1.05" stroke-dasharray="3.3,2.95"/>
<line x1="541.80" y1="753.50" x2="678.45" y2="753.50" stroke="#666" stroke-width="0.9"/>
<line x1="541.80" y1="753.50" x2="541.80" y2="755.70" stroke="#666" stroke-width="0.9"/>
<text x="541.80" y="763.54" font-size="5.95" text-anchor="middle">0</text>
<line x1="569.13" y1="753.50" x2="569.13" y2="755.70" stroke="#666" stroke-width="0.9"/>
<text x="569.13" y="763.54" font-size="5.95" text-anchor="middle">100</text>
<line x1="596.46" y1="753.50" x2="596.46" y2="755.70" stroke="#666" stroke-width="0.9"/>
<text x="596.46" y="763.54" font-size="5.95" text-anchor="middle">200</text>
<line x1="623.79" y1="753.50" x2="623.79" y2="755.70" stroke="#666" stroke-width="0.9"/>
<text x="623.79" y="763.54" font-size="5.95" text-anchor="middle">300</text>
<line x1="651.12" y1="753.50" x2="651.12" y2="755.70" stroke="#666" stroke-width="0.9"/>
<text x="651.12" y="763.54" font-size="5.95" text-anchor="middle">400</text>
<line x1="678.45" y1="753.50" x2="678.45" y2="755.70" stroke="#666" stroke-width="0.9"/>
<text x="678.45" y="763.54" font-size="5.95" text-anchor="middle">500</text>
<text x="610.00" y="774.89" font-size="6.35" text-anchor="middle">Hazard ratio</text>
<text class="lr" x="2.30" y="315.60" font-size="20.00">C</text>
<text x="27.10" y="323.38" font-size="6.05">Points</text>
<line x1="101.60" y1="321.50" x2="315.20" y2="321.50" stroke="#76716c" stroke-width="0.95"/>
<line x1="101.60" y1="321.50" x2="101.60" y2="319.50" stroke="#76716c" stroke-width="0.95"/>
<line x1="106.94" y1="321.50" x2="106.94" y2="320.40" stroke="#76716c" stroke-width="0.95"/>
<line x1="112.28" y1="321.50" x2="112.28" y2="320.40" stroke="#76716c" stroke-width="0.95"/>
<line x1="117.62" y1="321.50" x2="117.62" y2="320.40" stroke="#76716c" stroke-width="0.95"/>
<line x1="122.96" y1="321.50" x2="122.96" y2="319.50" stroke="#76716c" stroke-width="0.95"/>
<line x1="128.30" y1="321.50" x2="128.30" y2="320.40" stroke="#76716c" stroke-width="0.95"/>
<line x1="133.64" y1="321.50" x2="133.64" y2="320.40" stroke="#76716c" stroke-width="0.95"/>
<line x1="138.98" y1="321.50" x2="138.98" y2="320.40" stroke="#76716c" stroke-width="0.95"/>
<line x1="144.32" y1="321.50" x2="144.32" y2="319.50" stroke="#76716c" stroke-width="0.95"/>
<line x1="149.66" y1="321.50" x2="149.66" y2="320.40" stroke="#76716c" stroke-width="0.95"/>
<line x1="155.00" y1="321.50" x2="155.00" y2="320.40" stroke="#76716c" stroke-width="0.95"/>
<line x1="160.34" y1="321.50" x2="160.34" y2="320.40" stroke="#76716c" stroke-width="0.95"/>
<line x1="165.68" y1="321.50" x2="165.68" y2="319.50" stroke="#76716c" stroke-width="0.95"/>
<line x1="171.02" y1="321.50" x2="171.02" y2="320.40" stroke="#76716c" stroke-width="0.95"/>
<line x1="176.36" y1="321.50" x2="176.36" y2="320.40" stroke="#76716c" stroke-width="0.95"/>
<line x1="181.70" y1="321.50" x2="181.70" y2="320.40" stroke="#76716c" stroke-width="0.95"/>
<line x1="187.04" y1="321.50" x2="187.04" y2="319.50" stroke="#76716c" stroke-width="0.95"/>
<line x1="192.38" y1="321.50" x2="192.38" y2="320.40" stroke="#76716c" stroke-width="0.95"/>
<line x1="197.72" y1="321.50" x2="197.72" y2="320.40" stroke="#76716c" stroke-width="0.95"/>
<line x1="203.06" y1="321.50" x2="203.06" y2="320.40" stroke="#76716c" stroke-width="0.95"/>
<line x1="208.40" y1="321.50" x2="208.40" y2="319.50" stroke="#76716c" stroke-width="0.95"/>
<line x1="213.74" y1="321.50" x2="213.74" y2="320.40" stroke="#76716c" stroke-width="0.95"/>
<line x1="219.08" y1="321.50" x2="219.08" y2="320.40" stroke="#76716c" stroke-width="0.95"/>
<line x1="224.42" y1="321.50" x2="224.42" y2="320.40" stroke="#76716c" stroke-width="0.95"/>
<line x1="229.76" y1="321.50" x2="229.76" y2="319.50" stroke="#76716c" stroke-width="0.95"/>
<line x1="235.10" y1="321.50" x2="235.10" y2="320.40" stroke="#76716c" stroke-width="0.95"/>
<line x1="240.44" y1="321.50" x2="240.44" y2="320.40" stroke="#76716c" stroke-width="0.95"/>
<line x1="245.78" y1="321.50" x2="245.78" y2="320.40" stroke="#76716c" stroke-width="0.95"/>
<line x1="251.12" y1="321.50" x2="251.12" y2="319.50" stroke="#76716c" stroke-width="0.95"/>
<line x1="256.46" y1="321.50" x2="256.46" y2="320.40" stroke="#76716c" stroke-width="0.95"/>
<line x1="261.80" y1="321.50" x2="261.80" y2="320.40" stroke="#76716c" stroke-width="0.95"/>
<line x1="267.14" y1="321.50" x2="267.14" y2="320.40" stroke="#76716c" stroke-width="0.95"/>
<line x1="272.48" y1="321.50" x2="272.48" y2="319.50" stroke="#76716c" stroke-width="0.95"/>
<line x1="277.82" y1="321.50" x2="277.82" y2="320.40" stroke="#76716c" stroke-width="0.95"/>
<line x1="283.16" y1="321.50" x2="283.16" y2="320.40" stroke="#76716c" stroke-width="0.95"/>
<line x1="288.50" y1="321.50" x2="288.50" y2="320.40" stroke="#76716c" stroke-width="0.95"/>
<line x1="293.84" y1="321.50" x2="293.84" y2="319.50" stroke="#76716c" stroke-width="0.95"/>
<line x1="299.18" y1="321.50" x2="299.18" y2="320.40" stroke="#76716c" stroke-width="0.95"/>
<line x1="304.52" y1="321.50" x2="304.52" y2="320.40" stroke="#76716c" stroke-width="0.95"/>
<line x1="309.86" y1="321.50" x2="309.86" y2="320.40" stroke="#76716c" stroke-width="0.95"/>
<line x1="315.20" y1="321.50" x2="315.20" y2="319.50" stroke="#76716c" stroke-width="0.95"/>
<text x="101.60" y="316.80" font-size="5.00" text-anchor="middle">0</text>
<text x="122.96" y="316.80" font-size="5.00" text-anchor="middle">10</text>
<text x="144.32" y="316.80" font-size="5.00" text-anchor="middle">20</text>
<text x="165.68" y="316.80" font-size="5.00" text-anchor="middle">30</text>
<text x="187.04" y="316.80" font-size="5.00" text-anchor="middle">40</text>
<text x="208.40" y="316.80" font-size="5.00" text-anchor="middle">50</text>
<text x="229.76" y="316.80" font-size="5.00" text-anchor="middle">60</text>
<text x="251.12" y="316.80" font-size="5.00" text-anchor="middle">70</text>
<text x="272.48" y="316.80" font-size="5.00" text-anchor="middle">80</text>
<text x="293.84" y="316.80" font-size="5.00" text-anchor="middle">90</text>
<text x="315.20" y="316.80" font-size="5.00" text-anchor="middle">100</text>
<text x="27.10" y="335.48" font-size="6.05">g_NTRK1</text>
<line x1="101.60" y1="333.50" x2="315.20" y2="333.50" stroke="#76716c" stroke-width="0.95"/>
<line x1="101.60" y1="333.50" x2="101.60" y2="335.50" stroke="#76716c" stroke-width="0.95"/>
<line x1="315.20" y1="333.50" x2="315.20" y2="331.50" stroke="#76716c" stroke-width="0.95"/>
<text x="101.60" y="341.40" font-size="5.00" text-anchor="middle">1</text>
<text x="315.20" y="328.80" font-size="5.00" text-anchor="middle">0</text>
<text x="27.10" y="347.18" font-size="6.05">g_CDK8</text>
<line x1="101.60" y1="345.50" x2="162.00" y2="345.50" stroke="#76716c" stroke-width="0.95"/>
<line x1="101.60" y1="345.50" x2="101.60" y2="347.50" stroke="#76716c" stroke-width="0.95"/>
<line x1="162.00" y1="345.50" x2="162.00" y2="343.50" stroke="#76716c" stroke-width="0.95"/>
<text x="101.60" y="353.20" font-size="5.00" text-anchor="middle">0</text>
<text x="162.00" y="341.10" font-size="5.00" text-anchor="middle">1</text>
<text x="27.10" y="359.18" font-size="6.05">g_PKHD1</text>
<line x1="101.60" y1="357.50" x2="254.40" y2="357.50" stroke="#76716c" stroke-width="0.95"/>
<line x1="101.60" y1="357.50" x2="101.60" y2="359.50" stroke="#76716c" stroke-width="0.95"/>
<line x1="254.40" y1="357.50" x2="254.40" y2="355.50" stroke="#76716c" stroke-width="0.95"/>
<text x="101.60" y="365.10" font-size="5.00" text-anchor="middle">0</text>
<text x="254.40" y="352.60" font-size="5.00" text-anchor="middle">1</text>
<text x="27.10" y="371.58" font-size="6.05">g_AKT1</text>
<line x1="101.60" y1="369.50" x2="180.50" y2="369.50" stroke="#76716c" stroke-width="0.95"/>
<line x1="101.60" y1="369.50" x2="101.60" y2="371.50" stroke="#76716c" stroke-width="0.95"/>
<line x1="180.50" y1="369.50" x2="180.50" y2="367.50" stroke="#76716c" stroke-width="0.95"/>
<text x="101.60" y="377.10" font-size="5.00" text-anchor="middle">0</text>
<text x="180.50" y="364.60" font-size="5.00" text-anchor="middle">1</text>
<text x="27.10" y="382.58" font-size="6.05">p_CD27</text>
<line x1="101.60" y1="380.50" x2="234.40" y2="380.50" stroke="#76716c" stroke-width="0.95"/>
<line x1="101.60" y1="380.50" x2="101.60" y2="381.90" stroke="#76716c" stroke-width="0.95"/>
<line x1="114.88" y1="380.50" x2="114.88" y2="381.90" stroke="#76716c" stroke-width="0.95"/>
<line x1="128.16" y1="380.50" x2="128.16" y2="381.90" stroke="#76716c" stroke-width="0.95"/>
<line x1="141.44" y1="380.50" x2="141.44" y2="381.90" stroke="#76716c" stroke-width="0.95"/>
<line x1="154.72" y1="380.50" x2="154.72" y2="381.90" stroke="#76716c" stroke-width="0.95"/>
<line x1="168.00" y1="380.50" x2="168.00" y2="381.90" stroke="#76716c" stroke-width="0.95"/>
<line x1="181.28" y1="380.50" x2="181.28" y2="381.90" stroke="#76716c" stroke-width="0.95"/>
<line x1="194.56" y1="380.50" x2="194.56" y2="381.90" stroke="#76716c" stroke-width="0.95"/>
<line x1="207.84" y1="380.50" x2="207.84" y2="381.90" stroke="#76716c" stroke-width="0.95"/>
<line x1="221.12" y1="380.50" x2="221.12" y2="381.90" stroke="#76716c" stroke-width="0.95"/>
<line x1="234.40" y1="380.50" x2="234.40" y2="381.90" stroke="#76716c" stroke-width="0.95"/>
<text x="101.60" y="388.70" font-size="5.00" text-anchor="middle">9.4</text>
<text x="114.88" y="388.70" font-size="5.00" text-anchor="middle">9.2</text>
<text x="128.16" y="388.70" font-size="5.00" text-anchor="middle">9</text>
<text x="141.44" y="388.70" font-size="5.00" text-anchor="middle">8.8</text>
<text x="154.72" y="388.70" font-size="5.00" text-anchor="middle">8.6</text>
<text x="168.00" y="388.70" font-size="5.00" text-anchor="middle">8.4</text>
<text x="181.28" y="388.70" font-size="5.00" text-anchor="middle">8.2</text>
<text x="194.56" y="388.70" font-size="5.00" text-anchor="middle">8</text>
<text x="207.84" y="388.70" font-size="5.00" text-anchor="middle">7.8</text>
<text x="221.12" y="388.70" font-size="5.00" text-anchor="middle">7.6</text>
<text x="234.40" y="388.70" font-size="5.00" text-anchor="middle">7.4</text>
<text x="27.10" y="394.58" font-size="6.05">p_CRTAM</text>
<line x1="101.60" y1="392.50" x2="122.20" y2="392.50" stroke="#76716c" stroke-width="0.95"/>
<line x1="101.60" y1="392.50" x2="101.60" y2="394.70" stroke="#76716c" stroke-width="0.95"/>
<line x1="102.97" y1="392.50" x2="102.97" y2="394.70" stroke="#76716c" stroke-width="0.95"/>
<line x1="104.35" y1="392.50" x2="104.35" y2="394.70" stroke="#76716c" stroke-width="0.95"/>
<line x1="105.72" y1="392.50" x2="105.72" y2="394.70" stroke="#76716c" stroke-width="0.95"/>
<line x1="107.09" y1="392.50" x2="107.09" y2="394.70" stroke="#76716c" stroke-width="0.95"/>
<line x1="108.47" y1="392.50" x2="108.47" y2="394.70" stroke="#76716c" stroke-width="0.95"/>
<line x1="109.84" y1="392.50" x2="109.84" y2="394.70" stroke="#76716c" stroke-width="0.95"/>
<line x1="111.21" y1="392.50" x2="111.21" y2="394.70" stroke="#76716c" stroke-width="0.95"/>
<line x1="112.59" y1="392.50" x2="112.59" y2="394.70" stroke="#76716c" stroke-width="0.95"/>
<line x1="113.96" y1="392.50" x2="113.96" y2="394.70" stroke="#76716c" stroke-width="0.95"/>
<line x1="115.33" y1="392.50" x2="115.33" y2="394.70" stroke="#76716c" stroke-width="0.95"/>
<line x1="116.71" y1="392.50" x2="116.71" y2="394.70" stroke="#76716c" stroke-width="0.95"/>
<line x1="118.08" y1="392.50" x2="118.08" y2="394.70" stroke="#76716c" stroke-width="0.95"/>
<line x1="119.45" y1="392.50" x2="119.45" y2="394.70" stroke="#76716c" stroke-width="0.95"/>
<line x1="120.83" y1="392.50" x2="120.83" y2="394.70" stroke="#76716c" stroke-width="0.95"/>
<line x1="122.20" y1="392.50" x2="122.20" y2="394.70" stroke="#76716c" stroke-width="0.95"/>
<line x1="101.60" y1="394.20" x2="122.20" y2="394.20" stroke="#b0aca8" stroke-width="0.8"/>
<text x="101.60" y="400.70" font-size="5.00" text-anchor="middle">6</text>
<text x="111.40" y="400.70" font-size="5.00" text-anchor="middle">4.6</text>
<text x="122.20" y="400.70" font-size="5.00" text-anchor="middle">3</text>
<text x="27.10" y="406.58" font-size="6.05">p_IL13</text>
<line x1="101.60" y1="404.50" x2="142.70" y2="404.50" stroke="#76716c" stroke-width="0.95"/>
<line x1="101.60" y1="404.50" x2="101.60" y2="405.90" stroke="#76716c" stroke-width="0.95"/>
<line x1="106.74" y1="404.50" x2="106.74" y2="405.90" stroke="#76716c" stroke-width="0.95"/>
<line x1="111.88" y1="404.50" x2="111.88" y2="405.90" stroke="#76716c" stroke-width="0.95"/>
<line x1="117.01" y1="404.50" x2="117.01" y2="405.90" stroke="#76716c" stroke-width="0.95"/>
<line x1="122.15" y1="404.50" x2="122.15" y2="405.90" stroke="#76716c" stroke-width="0.95"/>
<line x1="127.29" y1="404.50" x2="127.29" y2="405.90" stroke="#76716c" stroke-width="0.95"/>
<line x1="132.42" y1="404.50" x2="132.42" y2="405.90" stroke="#76716c" stroke-width="0.95"/>
<line x1="137.56" y1="404.50" x2="137.56" y2="405.90" stroke="#76716c" stroke-width="0.95"/>
<line x1="142.70" y1="404.50" x2="142.70" y2="405.90" stroke="#76716c" stroke-width="0.95"/>
<text x="101.60" y="412.80" font-size="5.00" text-anchor="middle">−2</text>
<text x="111.88" y="412.80" font-size="5.00" text-anchor="middle">−1</text>
<text x="122.16" y="412.80" font-size="5.00" text-anchor="middle">0</text>
<text x="132.44" y="412.80" font-size="5.00" text-anchor="middle">1</text>
<text x="142.72" y="412.80" font-size="5.00" text-anchor="middle">2</text>
<text x="27.10" y="418.18" font-size="6.05">p_IL33</text>
<line x1="101.60" y1="415.50" x2="214.20" y2="415.50" stroke="#76716c" stroke-width="0.95"/>
<line x1="101.60" y1="415.50" x2="101.60" y2="416.90" stroke="#76716c" stroke-width="0.95"/>
<line x1="115.67" y1="415.50" x2="115.67" y2="416.90" stroke="#76716c" stroke-width="0.95"/>
<line x1="129.75" y1="415.50" x2="129.75" y2="416.90" stroke="#76716c" stroke-width="0.95"/>
<line x1="143.82" y1="415.50" x2="143.82" y2="416.90" stroke="#76716c" stroke-width="0.95"/>
<line x1="157.90" y1="415.50" x2="157.90" y2="416.90" stroke="#76716c" stroke-width="0.95"/>
<line x1="171.97" y1="415.50" x2="171.97" y2="416.90" stroke="#76716c" stroke-width="0.95"/>
<line x1="186.05" y1="415.50" x2="186.05" y2="416.90" stroke="#76716c" stroke-width="0.95"/>
<line x1="200.12" y1="415.50" x2="200.12" y2="416.90" stroke="#76716c" stroke-width="0.95"/>
<line x1="214.20" y1="415.50" x2="214.20" y2="416.90" stroke="#76716c" stroke-width="0.95"/>
<text x="101.60" y="424.60" font-size="5.00" text-anchor="middle">0.8</text>
<text x="115.68" y="424.60" font-size="5.00" text-anchor="middle">0.6</text>
<text x="129.76" y="424.60" font-size="5.00" text-anchor="middle">0.4</text>
<text x="143.84" y="424.60" font-size="5.00" text-anchor="middle">0.2</text>
<text x="157.92" y="424.60" font-size="5.00" text-anchor="middle">0</text>
<text x="172.00" y="424.60" font-size="5.00" text-anchor="middle">−0.2</text>
<text x="200.16" y="424.60" font-size="5.00" text-anchor="middle">−0.6</text>
<text x="27.10" y="429.98" font-size="6.05">p_IL4</text>
<line x1="101.60" y1="428.50" x2="145.20" y2="428.50" stroke="#76716c" stroke-width="0.95"/>
<line x1="101.60" y1="428.50" x2="101.60" y2="429.90" stroke="#76716c" stroke-width="0.95"/>
<line x1="106.44" y1="428.50" x2="106.44" y2="429.90" stroke="#76716c" stroke-width="0.95"/>
<line x1="111.29" y1="428.50" x2="111.29" y2="429.90" stroke="#76716c" stroke-width="0.95"/>
<line x1="116.13" y1="428.50" x2="116.13" y2="429.90" stroke="#76716c" stroke-width="0.95"/>
<line x1="120.98" y1="428.50" x2="120.98" y2="429.90" stroke="#76716c" stroke-width="0.95"/>
<line x1="125.82" y1="428.50" x2="125.82" y2="429.90" stroke="#76716c" stroke-width="0.95"/>
<line x1="130.67" y1="428.50" x2="130.67" y2="429.90" stroke="#76716c" stroke-width="0.95"/>
<line x1="135.51" y1="428.50" x2="135.51" y2="429.90" stroke="#76716c" stroke-width="0.95"/>
<line x1="140.36" y1="428.50" x2="140.36" y2="429.90" stroke="#76716c" stroke-width="0.95"/>
<line x1="145.20" y1="428.50" x2="145.20" y2="429.90" stroke="#76716c" stroke-width="0.95"/>
<text x="101.60" y="436.30" font-size="5.00" text-anchor="middle">−1</text>
<text x="111.32" y="436.30" font-size="5.00" text-anchor="middle">0</text>
<text x="121.04" y="436.30" font-size="5.00" text-anchor="middle">1</text>
<text x="130.76" y="436.30" font-size="5.00" text-anchor="middle">2</text>
<text x="140.48" y="436.30" font-size="5.00" text-anchor="middle">3</text>
<text x="27.10" y="442.48" font-size="6.05">Total Points</text>
<line x1="101.60" y1="439.50" x2="315.20" y2="439.50" stroke="#76716c" stroke-width="0.95"/>
<line x1="101.60" y1="439.50" x2="101.60" y2="441.30" stroke="#76716c" stroke-width="0.95"/>
<line x1="104.89" y1="439.50" x2="104.89" y2="440.50" stroke="#76716c" stroke-width="0.95"/>
<line x1="108.17" y1="439.50" x2="108.17" y2="440.50" stroke="#76716c" stroke-width="0.95"/>
<line x1="111.46" y1="439.50" x2="111.46" y2="440.50" stroke="#76716c" stroke-width="0.95"/>
<line x1="114.74" y1="439.50" x2="114.74" y2="440.50" stroke="#76716c" stroke-width="0.95"/>
<line x1="118.03" y1="439.50" x2="118.03" y2="441.30" stroke="#76716c" stroke-width="0.95"/>
<line x1="121.32" y1="439.50" x2="121.32" y2="440.50" stroke="#76716c" stroke-width="0.95"/>
<line x1="124.60" y1="439.50" x2="124.60" y2="440.50" stroke="#76716c" stroke-width="0.95"/>
<line x1="127.89" y1="439.50" x2="127.89" y2="440.50" stroke="#76716c" stroke-width="0.95"/>
<line x1="131.18" y1="439.50" x2="131.18" y2="440.50" stroke="#76716c" stroke-width="0.95"/>
<line x1="134.46" y1="439.50" x2="134.46" y2="441.30" stroke="#76716c" stroke-width="0.95"/>
<line x1="137.75" y1="439.50" x2="137.75" y2="440.50" stroke="#76716c" stroke-width="0.95"/>
<line x1="141.03" y1="439.50" x2="141.03" y2="440.50" stroke="#76716c" stroke-width="0.95"/>
<line x1="144.32" y1="439.50" x2="144.32" y2="440.50" stroke="#76716c" stroke-width="0.95"/>
<line x1="147.61" y1="439.50" x2="147.61" y2="440.50" stroke="#76716c" stroke-width="0.95"/>
<line x1="150.89" y1="439.50" x2="150.89" y2="441.30" stroke="#76716c" stroke-width="0.95"/>
<line x1="154.18" y1="439.50" x2="154.18" y2="440.50" stroke="#76716c" stroke-width="0.95"/>
<line x1="157.46" y1="439.50" x2="157.46" y2="440.50" stroke="#76716c" stroke-width="0.95"/>
<line x1="160.75" y1="439.50" x2="160.75" y2="440.50" stroke="#76716c" stroke-width="0.95"/>
<line x1="164.04" y1="439.50" x2="164.04" y2="440.50" stroke="#76716c" stroke-width="0.95"/>
<line x1="167.32" y1="439.50" x2="167.32" y2="441.30" stroke="#76716c" stroke-width="0.95"/>
<line x1="170.61" y1="439.50" x2="170.61" y2="440.50" stroke="#76716c" stroke-width="0.95"/>
<line x1="173.90" y1="439.50" x2="173.90" y2="440.50" stroke="#76716c" stroke-width="0.95"/>
<line x1="177.18" y1="439.50" x2="177.18" y2="440.50" stroke="#76716c" stroke-width="0.95"/>
<line x1="180.47" y1="439.50" x2="180.47" y2="440.50" stroke="#76716c" stroke-width="0.95"/>
<line x1="183.75" y1="439.50" x2="183.75" y2="441.30" stroke="#76716c" stroke-width="0.95"/>
<line x1="187.04" y1="439.50" x2="187.04" y2="440.50" stroke="#76716c" stroke-width="0.95"/>
<line x1="190.33" y1="439.50" x2="190.33" y2="440.50" stroke="#76716c" stroke-width="0.95"/>
<line x1="193.61" y1="439.50" x2="193.61" y2="440.50" stroke="#76716c" stroke-width="0.95"/>
<line x1="196.90" y1="439.50" x2="196.90" y2="440.50" stroke="#76716c" stroke-width="0.95"/>
<line x1="200.18" y1="439.50" x2="200.18" y2="441.30" stroke="#76716c" stroke-width="0.95"/>
<line x1="203.47" y1="439.50" x2="203.47" y2="440.50" stroke="#76716c" stroke-width="0.95"/>
<line x1="206.76" y1="439.50" x2="206.76" y2="440.50" stroke="#76716c" stroke-width="0.95"/>
<line x1="210.04" y1="439.50" x2="210.04" y2="440.50" stroke="#76716c" stroke-width="0.95"/>
<line x1="213.33" y1="439.50" x2="213.33" y2="440.50" stroke="#76716c" stroke-width="0.95"/>
<line x1="216.62" y1="439.50" x2="216.62" y2="441.30" stroke="#76716c" stroke-width="0.95"/>
<line x1="219.90" y1="439.50" x2="219.90" y2="440.50" stroke="#76716c" stroke-width="0.95"/>
<line x1="223.19" y1="439.50" x2="223.19" y2="440.50" stroke="#76716c" stroke-width="0.95"/>
<line x1="226.47" y1="439.50" x2="226.47" y2="440.50" stroke="#76716c" stroke-width="0.95"/>
<line x1="229.76" y1="439.50" x2="229.76" y2="440.50" stroke="#76716c" stroke-width="0.95"/>
<line x1="233.05" y1="439.50" x2="233.05" y2="441.30" stroke="#76716c" stroke-width="0.95"/>
<line x1="236.33" y1="439.50" x2="236.33" y2="440.50" stroke="#76716c" stroke-width="0.95"/>
<line x1="239.62" y1="439.50" x2="239.62" y2="440.50" stroke="#76716c" stroke-width="0.95"/>
<line x1="242.90" y1="439.50" x2="242.90" y2="440.50" stroke="#76716c" stroke-width="0.95"/>
<line x1="246.19" y1="439.50" x2="246.19" y2="440.50" stroke="#76716c" stroke-width="0.95"/>
<line x1="249.48" y1="439.50" x2="249.48" y2="441.30" stroke="#76716c" stroke-width="0.95"/>
<line x1="252.76" y1="439.50" x2="252.76" y2="440.50" stroke="#76716c" stroke-width="0.95"/>
<line x1="256.05" y1="439.50" x2="256.05" y2="440.50" stroke="#76716c" stroke-width="0.95"/>
<line x1="259.34" y1="439.50" x2="259.34" y2="440.50" stroke="#76716c" stroke-width="0.95"/>
<line x1="262.62" y1="439.50" x2="262.62" y2="440.50" stroke="#76716c" stroke-width="0.95"/>
<line x1="265.91" y1="439.50" x2="265.91" y2="441.30" stroke="#76716c" stroke-width="0.95"/>
<line x1="269.19" y1="439.50" x2="269.19" y2="440.50" stroke="#76716c" stroke-width="0.95"/>
<line x1="272.48" y1="439.50" x2="272.48" y2="440.50" stroke="#76716c" stroke-width="0.95"/>
<line x1="275.77" y1="439.50" x2="275.77" y2="440.50" stroke="#76716c" stroke-width="0.95"/>
<line x1="279.05" y1="439.50" x2="279.05" y2="440.50" stroke="#76716c" stroke-width="0.95"/>
<line x1="282.34" y1="439.50" x2="282.34" y2="441.30" stroke="#76716c" stroke-width="0.95"/>
<line x1="285.62" y1="439.50" x2="285.62" y2="440.50" stroke="#76716c" stroke-width="0.95"/>
<line x1="288.91" y1="439.50" x2="288.91" y2="440.50" stroke="#76716c" stroke-width="0.95"/>
<line x1="292.20" y1="439.50" x2="292.20" y2="440.50" stroke="#76716c" stroke-width="0.95"/>
<line x1="295.48" y1="439.50" x2="295.48" y2="440.50" stroke="#76716c" stroke-width="0.95"/>
<line x1="298.77" y1="439.50" x2="298.77" y2="441.30" stroke="#76716c" stroke-width="0.95"/>
<line x1="302.06" y1="439.50" x2="302.06" y2="440.50" stroke="#76716c" stroke-width="0.95"/>
<line x1="305.34" y1="439.50" x2="305.34" y2="440.50" stroke="#76716c" stroke-width="0.95"/>
<line x1="308.63" y1="439.50" x2="308.63" y2="440.50" stroke="#76716c" stroke-width="0.95"/>
<line x1="311.91" y1="439.50" x2="311.91" y2="440.50" stroke="#76716c" stroke-width="0.95"/>
<line x1="315.20" y1="439.50" x2="315.20" y2="441.30" stroke="#76716c" stroke-width="0.95"/>
<text x="101.60" y="448.20" font-size="5.00" text-anchor="middle">0</text>
<text x="118.03" y="448.20" font-size="5.00" text-anchor="middle">20</text>
<text x="134.46" y="448.20" font-size="5.00" text-anchor="middle">40</text>
<text x="150.89" y="448.20" font-size="5.00" text-anchor="middle">60</text>
<text x="167.32" y="448.20" font-size="5.00" text-anchor="middle">80</text>
<text x="183.75" y="448.20" font-size="5.00" text-anchor="middle">100</text>
<text x="200.18" y="448.20" font-size="5.00" text-anchor="middle">120</text>
<text x="216.62" y="448.20" font-size="5.00" text-anchor="middle">140</text>
<text x="233.05" y="448.20" font-size="5.00" text-anchor="middle">160</text>
<text x="249.48" y="448.20" font-size="5.00" text-anchor="middle">180</text>
<text x="265.91" y="448.20" font-size="5.00" text-anchor="middle">200</text>
<text x="282.34" y="448.20" font-size="5.00" text-anchor="middle">220</text>
<text x="298.77" y="448.20" font-size="5.00" text-anchor="middle">240</text>
<text x="315.20" y="448.20" font-size="5.00" text-anchor="middle">260</text>
<text x="27.10" y="454.58" font-size="6.05">6−month survival</text>
<line x1="242.30" y1="451.50" x2="266.70" y2="451.50" stroke="#76716c" stroke-width="0.95"/>
<line x1="242.30" y1="451.50" x2="242.30" y2="453.10" stroke="#76716c" stroke-width="0.95"/>
<line x1="252.60" y1="451.50" x2="252.60" y2="453.10" stroke="#76716c" stroke-width="0.95"/>
<line x1="259.60" y1="451.50" x2="259.60" y2="453.10" stroke="#76716c" stroke-width="0.95"/>
<line x1="266.70" y1="451.50" x2="266.70" y2="453.10" stroke="#76716c" stroke-width="0.95"/>
<text x="242.60" y="459.90" font-size="5.00" text-anchor="middle">0.8</text>
<text x="252.60" y="459.90" font-size="5.00" text-anchor="middle">0.6</text>
<text x="259.40" y="459.90" font-size="5.00" text-anchor="middle">0.4</text>
<text x="266.20" y="459.90" font-size="5.00" text-anchor="middle">0.2</text>
<text x="27.10" y="466.18" font-size="6.05">9−month survival</text>
<line x1="224.30" y1="463.50" x2="247.90" y2="463.50" stroke="#76716c" stroke-width="0.95"/>
<line x1="224.30" y1="463.50" x2="224.30" y2="465.10" stroke="#76716c" stroke-width="0.95"/>
<line x1="234.40" y1="463.50" x2="234.40" y2="465.10" stroke="#76716c" stroke-width="0.95"/>
<line x1="241.10" y1="463.50" x2="241.10" y2="465.10" stroke="#76716c" stroke-width="0.95"/>
<line x1="247.90" y1="463.50" x2="247.90" y2="465.10" stroke="#76716c" stroke-width="0.95"/>
<text x="224.60" y="471.80" font-size="5.00" text-anchor="middle">0.8</text>
<text x="234.40" y="471.80" font-size="5.00" text-anchor="middle">0.6</text>
<text x="241.10" y="471.80" font-size="5.00" text-anchor="middle">0.4</text>
<text x="247.60" y="471.80" font-size="5.00" text-anchor="middle">0.2</text>
<text x="27.10" y="478.08" font-size="6.05">12−month survival</text>
<line x1="219.80" y1="476.50" x2="243.60" y2="476.50" stroke="#76716c" stroke-width="0.95"/>
<line x1="219.80" y1="476.50" x2="219.80" y2="478.10" stroke="#76716c" stroke-width="0.95"/>
<line x1="229.90" y1="476.50" x2="229.90" y2="478.10" stroke="#76716c" stroke-width="0.95"/>
<line x1="236.70" y1="476.50" x2="236.70" y2="478.10" stroke="#76716c" stroke-width="0.95"/>
<line x1="243.60" y1="476.50" x2="243.60" y2="478.10" stroke="#76716c" stroke-width="0.95"/>
<text x="220.10" y="484.00" font-size="5.00" text-anchor="middle">0.8</text>
<text x="229.90" y="484.00" font-size="5.00" text-anchor="middle">0.6</text>
<text x="236.70" y="484.00" font-size="5.00" text-anchor="middle">0.4</text>
<text x="243.30" y="484.00" font-size="5.00" text-anchor="middle">0.2</text>
<text class="lr" x="361.60" y="315.10" font-size="20.00">D</text>
<text x="383.90" y="321.49" font-size="5.80">Points</text>
<line x1="453.50" y1="319.50" x2="654.00" y2="319.50" stroke="#76716c" stroke-width="0.95"/>
<line x1="453.50" y1="319.50" x2="453.50" y2="317.50" stroke="#76716c" stroke-width="0.95"/>
<line x1="458.51" y1="319.50" x2="458.51" y2="318.40" stroke="#76716c" stroke-width="0.95"/>
<line x1="463.52" y1="319.50" x2="463.52" y2="318.40" stroke="#76716c" stroke-width="0.95"/>
<line x1="468.54" y1="319.50" x2="468.54" y2="318.40" stroke="#76716c" stroke-width="0.95"/>
<line x1="473.55" y1="319.50" x2="473.55" y2="317.50" stroke="#76716c" stroke-width="0.95"/>
<line x1="478.56" y1="319.50" x2="478.56" y2="318.40" stroke="#76716c" stroke-width="0.95"/>
<line x1="483.57" y1="319.50" x2="483.57" y2="318.40" stroke="#76716c" stroke-width="0.95"/>
<line x1="488.59" y1="319.50" x2="488.59" y2="318.40" stroke="#76716c" stroke-width="0.95"/>
<line x1="493.60" y1="319.50" x2="493.60" y2="317.50" stroke="#76716c" stroke-width="0.95"/>
<line x1="498.61" y1="319.50" x2="498.61" y2="318.40" stroke="#76716c" stroke-width="0.95"/>
<line x1="503.62" y1="319.50" x2="503.62" y2="318.40" stroke="#76716c" stroke-width="0.95"/>
<line x1="508.64" y1="319.50" x2="508.64" y2="318.40" stroke="#76716c" stroke-width="0.95"/>
<line x1="513.65" y1="319.50" x2="513.65" y2="317.50" stroke="#76716c" stroke-width="0.95"/>
<line x1="518.66" y1="319.50" x2="518.66" y2="318.40" stroke="#76716c" stroke-width="0.95"/>
<line x1="523.67" y1="319.50" x2="523.67" y2="318.40" stroke="#76716c" stroke-width="0.95"/>
<line x1="528.69" y1="319.50" x2="528.69" y2="318.40" stroke="#76716c" stroke-width="0.95"/>
<line x1="533.70" y1="319.50" x2="533.70" y2="317.50" stroke="#76716c" stroke-width="0.95"/>
<line x1="538.71" y1="319.50" x2="538.71" y2="318.40" stroke="#76716c" stroke-width="0.95"/>
<line x1="543.73" y1="319.50" x2="543.73" y2="318.40" stroke="#76716c" stroke-width="0.95"/>
<line x1="548.74" y1="319.50" x2="548.74" y2="318.40" stroke="#76716c" stroke-width="0.95"/>
<line x1="553.75" y1="319.50" x2="553.75" y2="317.50" stroke="#76716c" stroke-width="0.95"/>
<line x1="558.76" y1="319.50" x2="558.76" y2="318.40" stroke="#76716c" stroke-width="0.95"/>
<line x1="563.77" y1="319.50" x2="563.77" y2="318.40" stroke="#76716c" stroke-width="0.95"/>
<line x1="568.79" y1="319.50" x2="568.79" y2="318.40" stroke="#76716c" stroke-width="0.95"/>
<line x1="573.80" y1="319.50" x2="573.80" y2="317.50" stroke="#76716c" stroke-width="0.95"/>
<line x1="578.81" y1="319.50" x2="578.81" y2="318.40" stroke="#76716c" stroke-width="0.95"/>
<line x1="583.83" y1="319.50" x2="583.83" y2="318.40" stroke="#76716c" stroke-width="0.95"/>
<line x1="588.84" y1="319.50" x2="588.84" y2="318.40" stroke="#76716c" stroke-width="0.95"/>
<line x1="593.85" y1="319.50" x2="593.85" y2="317.50" stroke="#76716c" stroke-width="0.95"/>
<line x1="598.86" y1="319.50" x2="598.86" y2="318.40" stroke="#76716c" stroke-width="0.95"/>
<line x1="603.88" y1="319.50" x2="603.88" y2="318.40" stroke="#76716c" stroke-width="0.95"/>
<line x1="608.89" y1="319.50" x2="608.89" y2="318.40" stroke="#76716c" stroke-width="0.95"/>
<line x1="613.90" y1="319.50" x2="613.90" y2="317.50" stroke="#76716c" stroke-width="0.95"/>
<line x1="618.91" y1="319.50" x2="618.91" y2="318.40" stroke="#76716c" stroke-width="0.95"/>
<line x1="623.92" y1="319.50" x2="623.92" y2="318.40" stroke="#76716c" stroke-width="0.95"/>
<line x1="628.94" y1="319.50" x2="628.94" y2="318.40" stroke="#76716c" stroke-width="0.95"/>
<line x1="633.95" y1="319.50" x2="633.95" y2="317.50" stroke="#76716c" stroke-width="0.95"/>
<line x1="638.96" y1="319.50" x2="638.96" y2="318.40" stroke="#76716c" stroke-width="0.95"/>
<line x1="643.98" y1="319.50" x2="643.98" y2="318.40" stroke="#76716c" stroke-width="0.95"/>
<line x1="648.99" y1="319.50" x2="648.99" y2="318.40" stroke="#76716c" stroke-width="0.95"/>
<line x1="654.00" y1="319.50" x2="654.00" y2="317.50" stroke="#76716c" stroke-width="0.95"/>
<text x="453.50" y="315.35" font-size="4.85" text-anchor="middle">0</text>
<text x="473.55" y="315.35" font-size="4.85" text-anchor="middle">10</text>
<text x="493.60" y="315.35" font-size="4.85" text-anchor="middle">20</text>
<text x="513.65" y="315.35" font-size="4.85" text-anchor="middle">30</text>
<text x="533.70" y="315.35" font-size="4.85" text-anchor="middle">40</text>
<text x="553.75" y="315.35" font-size="4.85" text-anchor="middle">50</text>
<text x="573.80" y="315.35" font-size="4.85" text-anchor="middle">60</text>
<text x="593.85" y="315.35" font-size="4.85" text-anchor="middle">70</text>
<text x="613.90" y="315.35" font-size="4.85" text-anchor="middle">80</text>
<text x="633.95" y="315.35" font-size="4.85" text-anchor="middle">90</text>
<text x="654.00" y="315.35" font-size="4.85" text-anchor="middle">100</text>
<text x="383.90" y="336.49" font-size="5.80">g_BAP1</text>
<line x1="453.50" y1="334.50" x2="500.20" y2="334.50" stroke="#76716c" stroke-width="0.95"/>
<line x1="453.50" y1="334.50" x2="453.50" y2="336.50" stroke="#76716c" stroke-width="0.95"/>
<line x1="500.20" y1="334.50" x2="500.20" y2="332.50" stroke="#76716c" stroke-width="0.95"/>
<text x="453.50" y="342.75" font-size="4.85" text-anchor="middle">0</text>
<text x="500.20" y="330.65" font-size="4.85" text-anchor="middle">1</text>
<text x="383.90" y="351.29" font-size="5.80">g_BRIP1</text>
<line x1="453.50" y1="349.50" x2="468.70" y2="349.50" stroke="#76716c" stroke-width="0.95"/>
<line x1="453.50" y1="349.50" x2="453.50" y2="351.50" stroke="#76716c" stroke-width="0.95"/>
<line x1="468.70" y1="349.50" x2="468.70" y2="347.50" stroke="#76716c" stroke-width="0.95"/>
<text x="453.50" y="357.55" font-size="4.85" text-anchor="middle">1</text>
<text x="468.70" y="345.85" font-size="4.85" text-anchor="middle">0</text>
<text x="383.90" y="367.09" font-size="5.80">p_IFN−gamma</text>
<line x1="453.50" y1="365.50" x2="507.30" y2="365.50" stroke="#76716c" stroke-width="0.95"/>
<line x1="453.50" y1="365.50" x2="453.50" y2="366.80" stroke="#76716c" stroke-width="0.95"/>
<line x1="457.34" y1="365.50" x2="457.34" y2="366.80" stroke="#76716c" stroke-width="0.95"/>
<line x1="461.19" y1="365.50" x2="461.19" y2="366.80" stroke="#76716c" stroke-width="0.95"/>
<line x1="465.03" y1="365.50" x2="465.03" y2="366.80" stroke="#76716c" stroke-width="0.95"/>
<line x1="468.87" y1="365.50" x2="468.87" y2="366.80" stroke="#76716c" stroke-width="0.95"/>
<line x1="472.71" y1="365.50" x2="472.71" y2="366.80" stroke="#76716c" stroke-width="0.95"/>
<line x1="476.56" y1="365.50" x2="476.56" y2="366.80" stroke="#76716c" stroke-width="0.95"/>
<line x1="480.40" y1="365.50" x2="480.40" y2="366.80" stroke="#76716c" stroke-width="0.95"/>
<line x1="484.24" y1="365.50" x2="484.24" y2="366.80" stroke="#76716c" stroke-width="0.95"/>
<line x1="488.09" y1="365.50" x2="488.09" y2="366.80" stroke="#76716c" stroke-width="0.95"/>
<line x1="491.93" y1="365.50" x2="491.93" y2="366.80" stroke="#76716c" stroke-width="0.95"/>
<line x1="495.77" y1="365.50" x2="495.77" y2="366.80" stroke="#76716c" stroke-width="0.95"/>
<line x1="499.61" y1="365.50" x2="499.61" y2="366.80" stroke="#76716c" stroke-width="0.95"/>
<line x1="503.46" y1="365.50" x2="503.46" y2="366.80" stroke="#76716c" stroke-width="0.95"/>
<line x1="507.30" y1="365.50" x2="507.30" y2="366.80" stroke="#76716c" stroke-width="0.95"/>
<text x="453.70" y="373.05" font-size="4.85" text-anchor="middle">5</text>
<text x="461.00" y="373.05" font-size="4.85" text-anchor="middle">6</text>
<text x="468.70" y="373.05" font-size="4.85" text-anchor="middle">7</text>
<text x="476.40" y="373.05" font-size="4.85" text-anchor="middle">8</text>
<text x="483.80" y="373.05" font-size="4.85" text-anchor="middle">9</text>
<text x="495.60" y="373.05" font-size="4.85" text-anchor="middle">10.5</text>
<text x="507.10" y="373.05" font-size="4.85" text-anchor="middle">12</text>
<text x="383.90" y="382.49" font-size="5.80">p_IL−1</text>
<line x1="453.50" y1="380.50" x2="653.00" y2="380.50" stroke="#76716c" stroke-width="0.95"/>
<line x1="453.50" y1="380.50" x2="453.50" y2="381.90" stroke="#76716c" stroke-width="0.95"/>
<line x1="466.80" y1="380.50" x2="466.80" y2="381.90" stroke="#76716c" stroke-width="0.95"/>
<line x1="480.10" y1="380.50" x2="480.10" y2="381.90" stroke="#76716c" stroke-width="0.95"/>
<line x1="493.40" y1="380.50" x2="493.40" y2="381.90" stroke="#76716c" stroke-width="0.95"/>
<line x1="506.70" y1="380.50" x2="506.70" y2="381.90" stroke="#76716c" stroke-width="0.95"/>
<line x1="520.00" y1="380.50" x2="520.00" y2="381.90" stroke="#76716c" stroke-width="0.95"/>
<line x1="533.30" y1="380.50" x2="533.30" y2="381.90" stroke="#76716c" stroke-width="0.95"/>
<line x1="546.60" y1="380.50" x2="546.60" y2="381.90" stroke="#76716c" stroke-width="0.95"/>
<line x1="559.90" y1="380.50" x2="559.90" y2="381.90" stroke="#76716c" stroke-width="0.95"/>
<line x1="573.20" y1="380.50" x2="573.20" y2="381.90" stroke="#76716c" stroke-width="0.95"/>
<line x1="586.50" y1="380.50" x2="586.50" y2="381.90" stroke="#76716c" stroke-width="0.95"/>
<line x1="599.80" y1="380.50" x2="599.80" y2="381.90" stroke="#76716c" stroke-width="0.95"/>
<line x1="613.10" y1="380.50" x2="613.10" y2="381.90" stroke="#76716c" stroke-width="0.95"/>
<line x1="626.40" y1="380.50" x2="626.40" y2="381.90" stroke="#76716c" stroke-width="0.95"/>
<line x1="639.70" y1="380.50" x2="639.70" y2="381.90" stroke="#76716c" stroke-width="0.95"/>
<line x1="653.00" y1="380.50" x2="653.00" y2="381.90" stroke="#76716c" stroke-width="0.95"/>
<text x="453.50" y="388.65" font-size="4.85" text-anchor="middle">4.5</text>
<text x="466.80" y="388.65" font-size="4.85" text-anchor="middle">4</text>
<text x="480.10" y="388.65" font-size="4.85" text-anchor="middle">3.5</text>
<text x="493.40" y="388.65" font-size="4.85" text-anchor="middle">3</text>
<text x="506.70" y="388.65" font-size="4.85" text-anchor="middle">2.5</text>
<text x="520.00" y="388.65" font-size="4.85" text-anchor="middle">2</text>
<text x="533.30" y="388.65" font-size="4.85" text-anchor="middle">1.5</text>
<text x="546.60" y="388.65" font-size="4.85" text-anchor="middle">1</text>
<text x="559.90" y="388.65" font-size="4.85" text-anchor="middle">0.5</text>
<text x="573.20" y="388.65" font-size="4.85" text-anchor="middle">0</text>
<text x="586.50" y="388.65" font-size="4.85" text-anchor="middle">−0.5</text>
<text x="599.80" y="388.65" font-size="4.85" text-anchor="middle">−1</text>
<text x="613.10" y="388.65" font-size="4.85" text-anchor="middle">−1.5</text>
<text x="626.40" y="388.65" font-size="4.85" text-anchor="middle">−2</text>
<text x="639.70" y="388.65" font-size="4.85" text-anchor="middle">−2.5</text>
<text x="653.00" y="388.65" font-size="4.85" text-anchor="middle">−3</text>
<text x="383.90" y="397.89" font-size="5.80">p_IL13</text>
<line x1="453.50" y1="396.50" x2="486.40" y2="396.50" stroke="#76716c" stroke-width="0.95"/>
<line x1="453.50" y1="396.50" x2="453.50" y2="397.80" stroke="#76716c" stroke-width="0.95"/>
<line x1="457.61" y1="396.50" x2="457.61" y2="397.80" stroke="#76716c" stroke-width="0.95"/>
<line x1="461.73" y1="396.50" x2="461.73" y2="397.80" stroke="#76716c" stroke-width="0.95"/>
<line x1="465.84" y1="396.50" x2="465.84" y2="397.80" stroke="#76716c" stroke-width="0.95"/>
<line x1="469.95" y1="396.50" x2="469.95" y2="397.80" stroke="#76716c" stroke-width="0.95"/>
<line x1="474.06" y1="396.50" x2="474.06" y2="397.80" stroke="#76716c" stroke-width="0.95"/>
<line x1="478.17" y1="396.50" x2="478.17" y2="397.80" stroke="#76716c" stroke-width="0.95"/>
<line x1="482.29" y1="396.50" x2="482.29" y2="397.80" stroke="#76716c" stroke-width="0.95"/>
<line x1="486.40" y1="396.50" x2="486.40" y2="397.80" stroke="#76716c" stroke-width="0.95"/>
<text x="453.70" y="403.75" font-size="4.85" text-anchor="middle">−2</text>
<text x="466.00" y="403.75" font-size="4.85" text-anchor="middle">−0.5</text>
<text x="477.90" y="403.75" font-size="4.85" text-anchor="middle">1</text>
<text x="485.70" y="403.75" font-size="4.85" text-anchor="middle">2</text>
<text x="383.90" y="413.19" font-size="5.80">p_MUC−16</text>
<line x1="453.50" y1="411.50" x2="476.70" y2="411.50" stroke="#76716c" stroke-width="0.95"/>
<line x1="453.50" y1="411.50" x2="453.50" y2="412.80" stroke="#76716c" stroke-width="0.95"/>
<line x1="454.95" y1="411.50" x2="454.95" y2="412.80" stroke="#76716c" stroke-width="0.95"/>
<line x1="456.40" y1="411.50" x2="456.40" y2="412.80" stroke="#76716c" stroke-width="0.95"/>
<line x1="457.85" y1="411.50" x2="457.85" y2="412.80" stroke="#76716c" stroke-width="0.95"/>
<line x1="459.30" y1="411.50" x2="459.30" y2="412.80" stroke="#76716c" stroke-width="0.95"/>
<line x1="460.75" y1="411.50" x2="460.75" y2="412.80" stroke="#76716c" stroke-width="0.95"/>
<line x1="462.20" y1="411.50" x2="462.20" y2="412.80" stroke="#76716c" stroke-width="0.95"/>
<line x1="463.65" y1="411.50" x2="463.65" y2="412.80" stroke="#76716c" stroke-width="0.95"/>
<line x1="465.10" y1="411.50" x2="465.10" y2="412.80" stroke="#76716c" stroke-width="0.95"/>
<line x1="466.55" y1="411.50" x2="466.55" y2="412.80" stroke="#76716c" stroke-width="0.95"/>
<line x1="468.00" y1="411.50" x2="468.00" y2="412.80" stroke="#76716c" stroke-width="0.95"/>
<line x1="469.45" y1="411.50" x2="469.45" y2="412.80" stroke="#76716c" stroke-width="0.95"/>
<line x1="470.90" y1="411.50" x2="470.90" y2="412.80" stroke="#76716c" stroke-width="0.95"/>
<line x1="472.35" y1="411.50" x2="472.35" y2="412.80" stroke="#76716c" stroke-width="0.95"/>
<line x1="473.80" y1="411.50" x2="473.80" y2="412.80" stroke="#76716c" stroke-width="0.95"/>
<line x1="475.25" y1="411.50" x2="475.25" y2="412.80" stroke="#76716c" stroke-width="0.95"/>
<line x1="476.70" y1="411.50" x2="476.70" y2="412.80" stroke="#76716c" stroke-width="0.95"/>
<text x="453.70" y="419.05" font-size="4.85" text-anchor="middle">2</text>
<text x="461.30" y="419.05" font-size="4.85" text-anchor="middle">4</text>
<text x="468.70" y="419.05" font-size="4.85" text-anchor="middle">6</text>
<text x="476.40" y="419.05" font-size="4.85" text-anchor="middle">8</text>
<text x="383.90" y="428.69" font-size="5.80">p_VEGFR−2</text>
<rect x="453.40" y="426.50" width="5.90" height="2.30" fill="#111"/>
<text x="453.70" y="434.65" font-size="4.85" text-anchor="middle">5.7</text>
<text x="383.90" y="444.39" font-size="5.80">Total Points</text>
<line x1="453.50" y1="442.50" x2="654.30" y2="442.50" stroke="#76716c" stroke-width="0.95"/>
<line x1="453.50" y1="442.50" x2="453.50" y2="444.30" stroke="#76716c" stroke-width="0.95"/>
<line x1="458.52" y1="442.50" x2="458.52" y2="443.50" stroke="#76716c" stroke-width="0.95"/>
<line x1="463.54" y1="442.50" x2="463.54" y2="443.50" stroke="#76716c" stroke-width="0.95"/>
<line x1="468.56" y1="442.50" x2="468.56" y2="443.50" stroke="#76716c" stroke-width="0.95"/>
<line x1="473.58" y1="442.50" x2="473.58" y2="443.50" stroke="#76716c" stroke-width="0.95"/>
<line x1="478.60" y1="442.50" x2="478.60" y2="444.30" stroke="#76716c" stroke-width="0.95"/>
<line x1="483.62" y1="442.50" x2="483.62" y2="443.50" stroke="#76716c" stroke-width="0.95"/>
<line x1="488.64" y1="442.50" x2="488.64" y2="443.50" stroke="#76716c" stroke-width="0.95"/>
<line x1="493.66" y1="442.50" x2="493.66" y2="443.50" stroke="#76716c" stroke-width="0.95"/>
<line x1="498.68" y1="442.50" x2="498.68" y2="443.50" stroke="#76716c" stroke-width="0.95"/>
<line x1="503.70" y1="442.50" x2="503.70" y2="444.30" stroke="#76716c" stroke-width="0.95"/>
<line x1="508.72" y1="442.50" x2="508.72" y2="443.50" stroke="#76716c" stroke-width="0.95"/>
<line x1="513.74" y1="442.50" x2="513.74" y2="443.50" stroke="#76716c" stroke-width="0.95"/>
<line x1="518.76" y1="442.50" x2="518.76" y2="443.50" stroke="#76716c" stroke-width="0.95"/>
<line x1="523.78" y1="442.50" x2="523.78" y2="443.50" stroke="#76716c" stroke-width="0.95"/>
<line x1="528.80" y1="442.50" x2="528.80" y2="444.30" stroke="#76716c" stroke-width="0.95"/>
<line x1="533.82" y1="442.50" x2="533.82" y2="443.50" stroke="#76716c" stroke-width="0.95"/>
<line x1="538.84" y1="442.50" x2="538.84" y2="443.50" stroke="#76716c" stroke-width="0.95"/>
<line x1="543.86" y1="442.50" x2="543.86" y2="443.50" stroke="#76716c" stroke-width="0.95"/>
<line x1="548.88" y1="442.50" x2="548.88" y2="443.50" stroke="#76716c" stroke-width="0.95"/>
<line x1="553.90" y1="442.50" x2="553.90" y2="444.30" stroke="#76716c" stroke-width="0.95"/>
<line x1="558.92" y1="442.50" x2="558.92" y2="443.50" stroke="#76716c" stroke-width="0.95"/>
<line x1="563.94" y1="442.50" x2="563.94" y2="443.50" stroke="#76716c" stroke-width="0.95"/>
<line x1="568.96" y1="442.50" x2="568.96" y2="443.50" stroke="#76716c" stroke-width="0.95"/>
<line x1="573.98" y1="442.50" x2="573.98" y2="443.50" stroke="#76716c" stroke-width="0.95"/>
<line x1="579.00" y1="442.50" x2="579.00" y2="444.30" stroke="#76716c" stroke-width="0.95"/>
<line x1="584.02" y1="442.50" x2="584.02" y2="443.50" stroke="#76716c" stroke-width="0.95"/>
<line x1="589.04" y1="442.50" x2="589.04" y2="443.50" stroke="#76716c" stroke-width="0.95"/>
<line x1="594.06" y1="442.50" x2="594.06" y2="443.50" stroke="#76716c" stroke-width="0.95"/>
<line x1="599.08" y1="442.50" x2="599.08" y2="443.50" stroke="#76716c" stroke-width="0.95"/>
<line x1="604.10" y1="442.50" x2="604.10" y2="444.30" stroke="#76716c" stroke-width="0.95"/>
<line x1="609.12" y1="442.50" x2="609.12" y2="443.50" stroke="#76716c" stroke-width="0.95"/>
<line x1="614.14" y1="442.50" x2="614.14" y2="443.50" stroke="#76716c" stroke-width="0.95"/>
<line x1="619.16" y1="442.50" x2="619.16" y2="443.50" stroke="#76716c" stroke-width="0.95"/>
<line x1="624.18" y1="442.50" x2="624.18" y2="443.50" stroke="#76716c" stroke-width="0.95"/>
<line x1="629.20" y1="442.50" x2="629.20" y2="444.30" stroke="#76716c" stroke-width="0.95"/>
<line x1="634.22" y1="442.50" x2="634.22" y2="443.50" stroke="#76716c" stroke-width="0.95"/>
<line x1="639.24" y1="442.50" x2="639.24" y2="443.50" stroke="#76716c" stroke-width="0.95"/>
<line x1="644.26" y1="442.50" x2="644.26" y2="443.50" stroke="#76716c" stroke-width="0.95"/>
<line x1="649.28" y1="442.50" x2="649.28" y2="443.50" stroke="#76716c" stroke-width="0.95"/>
<line x1="654.30" y1="442.50" x2="654.30" y2="444.30" stroke="#76716c" stroke-width="0.95"/>
<text x="453.50" y="450.05" font-size="4.85" text-anchor="middle">0</text>
<text x="478.60" y="450.05" font-size="4.85" text-anchor="middle">20</text>
<text x="503.70" y="450.05" font-size="4.85" text-anchor="middle">40</text>
<text x="528.80" y="450.05" font-size="4.85" text-anchor="middle">60</text>
<text x="553.90" y="450.05" font-size="4.85" text-anchor="middle">80</text>
<text x="579.00" y="450.05" font-size="4.85" text-anchor="middle">100</text>
<text x="604.10" y="450.05" font-size="4.85" text-anchor="middle">120</text>
<text x="629.20" y="450.05" font-size="4.85" text-anchor="middle">140</text>
<text x="654.30" y="450.05" font-size="4.85" text-anchor="middle">160</text>
<text x="383.90" y="459.19" font-size="5.80">1−year survival</text>
<line x1="570.70" y1="457.50" x2="598.60" y2="457.50" stroke="#76716c" stroke-width="0.95"/>
<line x1="570.70" y1="457.50" x2="570.70" y2="459.10" stroke="#76716c" stroke-width="0.95"/>
<line x1="584.00" y1="457.50" x2="584.00" y2="459.10" stroke="#76716c" stroke-width="0.95"/>
<line x1="591.30" y1="457.50" x2="591.30" y2="459.10" stroke="#76716c" stroke-width="0.95"/>
<line x1="598.60" y1="457.50" x2="598.60" y2="459.10" stroke="#76716c" stroke-width="0.95"/>
<text x="571.40" y="465.15" font-size="4.85" text-anchor="middle">0.8</text>
<text x="583.60" y="465.15" font-size="4.85" text-anchor="middle">0.6</text>
<text x="590.60" y="465.15" font-size="4.85" text-anchor="middle">0.4</text>
<text x="597.30" y="465.15" font-size="4.85" text-anchor="middle">0.2</text>
<text x="383.90" y="474.89" font-size="5.80">1.5−year survival</text>
<line x1="560.80" y1="472.50" x2="588.80" y2="472.50" stroke="#76716c" stroke-width="0.95"/>
<line x1="560.80" y1="472.50" x2="560.80" y2="474.10" stroke="#76716c" stroke-width="0.95"/>
<line x1="574.10" y1="472.50" x2="574.10" y2="474.10" stroke="#76716c" stroke-width="0.95"/>
<line x1="581.40" y1="472.50" x2="581.40" y2="474.10" stroke="#76716c" stroke-width="0.95"/>
<line x1="588.80" y1="472.50" x2="588.80" y2="474.10" stroke="#76716c" stroke-width="0.95"/>
<text x="561.50" y="480.75" font-size="4.85" text-anchor="middle">0.8</text>
<text x="573.70" y="480.75" font-size="4.85" text-anchor="middle">0.6</text>
<text x="580.70" y="480.75" font-size="4.85" text-anchor="middle">0.4</text>
<text x="587.50" y="480.75" font-size="4.85" text-anchor="middle">0.2</text>
<text x="383.90" y="489.79" font-size="5.80">2−year survival</text>
<line x1="560.80" y1="488.50" x2="588.80" y2="488.50" stroke="#76716c" stroke-width="0.95"/>
<line x1="560.80" y1="488.50" x2="560.80" y2="490.10" stroke="#76716c" stroke-width="0.95"/>
<line x1="574.10" y1="488.50" x2="574.10" y2="490.10" stroke="#76716c" stroke-width="0.95"/>
<line x1="581.40" y1="488.50" x2="581.40" y2="490.10" stroke="#76716c" stroke-width="0.95"/>
<line x1="588.80" y1="488.50" x2="588.80" y2="490.10" stroke="#76716c" stroke-width="0.95"/>
<text x="561.50" y="495.85" font-size="4.85" text-anchor="middle">0.8</text>
<text x="573.70" y="495.85" font-size="4.85" text-anchor="middle">0.6</text>
<text x="580.70" y="495.85" font-size="4.85" text-anchor="middle">0.4</text>
<text x="587.50" y="495.85" font-size="4.85" text-anchor="middle">0.2</text>
<text class="lr" x="2.30" y="815.10" font-size="20.00">G</text>
<text x="27.10" y="823.28" font-size="6.05">Points</text>
<line x1="101.40" y1="820.50" x2="315.20" y2="820.50" stroke="#76716c" stroke-width="0.95"/>
<line x1="101.40" y1="820.50" x2="101.40" y2="818.50" stroke="#76716c" stroke-width="0.95"/>
<line x1="106.75" y1="820.50" x2="106.75" y2="819.40" stroke="#76716c" stroke-width="0.95"/>
<line x1="112.09" y1="820.50" x2="112.09" y2="819.40" stroke="#76716c" stroke-width="0.95"/>
<line x1="117.44" y1="820.50" x2="117.44" y2="819.40" stroke="#76716c" stroke-width="0.95"/>
<line x1="122.78" y1="820.50" x2="122.78" y2="818.50" stroke="#76716c" stroke-width="0.95"/>
<line x1="128.12" y1="820.50" x2="128.12" y2="819.40" stroke="#76716c" stroke-width="0.95"/>
<line x1="133.47" y1="820.50" x2="133.47" y2="819.40" stroke="#76716c" stroke-width="0.95"/>
<line x1="138.81" y1="820.50" x2="138.81" y2="819.40" stroke="#76716c" stroke-width="0.95"/>
<line x1="144.16" y1="820.50" x2="144.16" y2="818.50" stroke="#76716c" stroke-width="0.95"/>
<line x1="149.50" y1="820.50" x2="149.50" y2="819.40" stroke="#76716c" stroke-width="0.95"/>
<line x1="154.85" y1="820.50" x2="154.85" y2="819.40" stroke="#76716c" stroke-width="0.95"/>
<line x1="160.19" y1="820.50" x2="160.19" y2="819.40" stroke="#76716c" stroke-width="0.95"/>
<line x1="165.54" y1="820.50" x2="165.54" y2="818.50" stroke="#76716c" stroke-width="0.95"/>
<line x1="170.88" y1="820.50" x2="170.88" y2="819.40" stroke="#76716c" stroke-width="0.95"/>
<line x1="176.23" y1="820.50" x2="176.23" y2="819.40" stroke="#76716c" stroke-width="0.95"/>
<line x1="181.57" y1="820.50" x2="181.57" y2="819.40" stroke="#76716c" stroke-width="0.95"/>
<line x1="186.92" y1="820.50" x2="186.92" y2="818.50" stroke="#76716c" stroke-width="0.95"/>
<line x1="192.26" y1="820.50" x2="192.26" y2="819.40" stroke="#76716c" stroke-width="0.95"/>
<line x1="197.61" y1="820.50" x2="197.61" y2="819.40" stroke="#76716c" stroke-width="0.95"/>
<line x1="202.95" y1="820.50" x2="202.95" y2="819.40" stroke="#76716c" stroke-width="0.95"/>
<line x1="208.30" y1="820.50" x2="208.30" y2="818.50" stroke="#76716c" stroke-width="0.95"/>
<line x1="213.64" y1="820.50" x2="213.64" y2="819.40" stroke="#76716c" stroke-width="0.95"/>
<line x1="218.99" y1="820.50" x2="218.99" y2="819.40" stroke="#76716c" stroke-width="0.95"/>
<line x1="224.33" y1="820.50" x2="224.33" y2="819.40" stroke="#76716c" stroke-width="0.95"/>
<line x1="229.68" y1="820.50" x2="229.68" y2="818.50" stroke="#76716c" stroke-width="0.95"/>
<line x1="235.03" y1="820.50" x2="235.03" y2="819.40" stroke="#76716c" stroke-width="0.95"/>
<line x1="240.37" y1="820.50" x2="240.37" y2="819.40" stroke="#76716c" stroke-width="0.95"/>
<line x1="245.72" y1="820.50" x2="245.72" y2="819.40" stroke="#76716c" stroke-width="0.95"/>
<line x1="251.06" y1="820.50" x2="251.06" y2="818.50" stroke="#76716c" stroke-width="0.95"/>
<line x1="256.40" y1="820.50" x2="256.40" y2="819.40" stroke="#76716c" stroke-width="0.95"/>
<line x1="261.75" y1="820.50" x2="261.75" y2="819.40" stroke="#76716c" stroke-width="0.95"/>
<line x1="267.10" y1="820.50" x2="267.10" y2="819.40" stroke="#76716c" stroke-width="0.95"/>
<line x1="272.44" y1="820.50" x2="272.44" y2="818.50" stroke="#76716c" stroke-width="0.95"/>
<line x1="277.78" y1="820.50" x2="277.78" y2="819.40" stroke="#76716c" stroke-width="0.95"/>
<line x1="283.13" y1="820.50" x2="283.13" y2="819.40" stroke="#76716c" stroke-width="0.95"/>
<line x1="288.48" y1="820.50" x2="288.48" y2="819.40" stroke="#76716c" stroke-width="0.95"/>
<line x1="293.82" y1="820.50" x2="293.82" y2="818.50" stroke="#76716c" stroke-width="0.95"/>
<line x1="299.16" y1="820.50" x2="299.16" y2="819.40" stroke="#76716c" stroke-width="0.95"/>
<line x1="304.51" y1="820.50" x2="304.51" y2="819.40" stroke="#76716c" stroke-width="0.95"/>
<line x1="309.86" y1="820.50" x2="309.86" y2="819.40" stroke="#76716c" stroke-width="0.95"/>
<line x1="315.20" y1="820.50" x2="315.20" y2="818.50" stroke="#76716c" stroke-width="0.95"/>
<text x="101.40" y="816.40" font-size="5.00" text-anchor="middle">0</text>
<text x="122.78" y="816.40" font-size="5.00" text-anchor="middle">10</text>
<text x="144.16" y="816.40" font-size="5.00" text-anchor="middle">20</text>
<text x="165.54" y="816.40" font-size="5.00" text-anchor="middle">30</text>
<text x="186.92" y="816.40" font-size="5.00" text-anchor="middle">40</text>
<text x="208.30" y="816.40" font-size="5.00" text-anchor="middle">50</text>
<text x="229.68" y="816.40" font-size="5.00" text-anchor="middle">60</text>
<text x="251.06" y="816.40" font-size="5.00" text-anchor="middle">70</text>
<text x="272.44" y="816.40" font-size="5.00" text-anchor="middle">80</text>
<text x="293.82" y="816.40" font-size="5.00" text-anchor="middle">90</text>
<text x="315.20" y="816.40" font-size="5.00" text-anchor="middle">100</text>
<text x="27.10" y="833.08" font-size="6.05">g_MSH6</text>
<line x1="101.40" y1="831.50" x2="277.50" y2="831.50" stroke="#76716c" stroke-width="0.95"/>
<line x1="101.40" y1="831.50" x2="101.40" y2="833.50" stroke="#76716c" stroke-width="0.95"/>
<line x1="277.50" y1="831.50" x2="277.50" y2="829.50" stroke="#76716c" stroke-width="0.95"/>
<text x="101.40" y="839.50" font-size="5.00" text-anchor="middle">0</text>
<text x="277.50" y="827.70" font-size="5.00" text-anchor="middle">1</text>
<text x="27.10" y="845.18" font-size="6.05">g_SMARCA4</text>
<line x1="101.40" y1="843.50" x2="118.00" y2="843.50" stroke="#76716c" stroke-width="0.95"/>
<line x1="101.40" y1="843.50" x2="101.40" y2="845.50" stroke="#76716c" stroke-width="0.95"/>
<line x1="118.00" y1="843.50" x2="118.00" y2="841.50" stroke="#76716c" stroke-width="0.95"/>
<text x="101.40" y="851.30" font-size="5.00" text-anchor="middle">1</text>
<text x="118.00" y="838.50" font-size="5.00" text-anchor="middle">0</text>
<text x="27.10" y="855.68" font-size="6.05">g_TNFAIP3</text>
<line x1="101.40" y1="854.50" x2="226.50" y2="854.50" stroke="#76716c" stroke-width="0.95"/>
<line x1="101.40" y1="854.50" x2="101.40" y2="856.50" stroke="#76716c" stroke-width="0.95"/>
<line x1="226.50" y1="854.50" x2="226.50" y2="852.50" stroke="#76716c" stroke-width="0.95"/>
<text x="101.40" y="862.60" font-size="5.00" text-anchor="middle">1</text>
<text x="226.50" y="849.50" font-size="5.00" text-anchor="middle">0</text>
<text x="27.10" y="866.98" font-size="6.05">g_STK11</text>
<line x1="101.40" y1="865.50" x2="268.50" y2="865.50" stroke="#76716c" stroke-width="0.95"/>
<line x1="101.40" y1="865.50" x2="101.40" y2="867.50" stroke="#76716c" stroke-width="0.95"/>
<line x1="268.50" y1="865.50" x2="268.50" y2="863.50" stroke="#76716c" stroke-width="0.95"/>
<text x="101.40" y="873.40" font-size="5.00" text-anchor="middle">0</text>
<text x="268.50" y="861.10" font-size="5.00" text-anchor="middle">1</text>
<text x="27.10" y="877.88" font-size="6.05">g_CTNNB1</text>
<line x1="101.40" y1="876.50" x2="315.20" y2="876.50" stroke="#76716c" stroke-width="0.95"/>
<line x1="101.40" y1="876.50" x2="101.40" y2="878.50" stroke="#76716c" stroke-width="0.95"/>
<line x1="315.20" y1="876.50" x2="315.20" y2="874.50" stroke="#76716c" stroke-width="0.95"/>
<text x="101.40" y="884.40" font-size="5.00" text-anchor="middle">0</text>
<text x="315.20" y="871.60" font-size="5.00" text-anchor="middle">1</text>
<text x="27.10" y="889.28" font-size="6.05">g_SDHC</text>
<line x1="101.40" y1="887.50" x2="214.00" y2="887.50" stroke="#76716c" stroke-width="0.95"/>
<line x1="101.40" y1="887.50" x2="101.40" y2="889.50" stroke="#76716c" stroke-width="0.95"/>
<line x1="214.00" y1="887.50" x2="214.00" y2="885.50" stroke="#76716c" stroke-width="0.95"/>
<text x="101.40" y="895.90" font-size="5.00" text-anchor="middle">0</text>
<text x="214.00" y="883.30" font-size="5.00" text-anchor="middle">1</text>
<text x="27.10" y="900.28" font-size="6.05">g_POLE</text>
<line x1="101.40" y1="898.50" x2="205.60" y2="898.50" stroke="#76716c" stroke-width="0.95"/>
<line x1="101.40" y1="898.50" x2="101.40" y2="900.50" stroke="#76716c" stroke-width="0.95"/>
<line x1="205.60" y1="898.50" x2="205.60" y2="896.50" stroke="#76716c" stroke-width="0.95"/>
<text x="101.40" y="906.90" font-size="5.00" text-anchor="middle">1</text>
<text x="205.60" y="894.70" font-size="5.00" text-anchor="middle">0</text>
<text x="27.10" y="911.58" font-size="6.05">p_CD27</text>
<line x1="101.40" y1="910.50" x2="154.40" y2="910.50" stroke="#76716c" stroke-width="0.95"/>
<line x1="101.40" y1="910.50" x2="101.40" y2="911.90" stroke="#76716c" stroke-width="0.95"/>
<line x1="106.22" y1="910.50" x2="106.22" y2="911.90" stroke="#76716c" stroke-width="0.95"/>
<line x1="111.04" y1="910.50" x2="111.04" y2="911.90" stroke="#76716c" stroke-width="0.95"/>
<line x1="115.85" y1="910.50" x2="115.85" y2="911.90" stroke="#76716c" stroke-width="0.95"/>
<line x1="120.67" y1="910.50" x2="120.67" y2="911.90" stroke="#76716c" stroke-width="0.95"/>
<line x1="125.49" y1="910.50" x2="125.49" y2="911.90" stroke="#76716c" stroke-width="0.95"/>
<line x1="130.31" y1="910.50" x2="130.31" y2="911.90" stroke="#76716c" stroke-width="0.95"/>
<line x1="135.13" y1="910.50" x2="135.13" y2="911.90" stroke="#76716c" stroke-width="0.95"/>
<line x1="139.95" y1="910.50" x2="139.95" y2="911.90" stroke="#76716c" stroke-width="0.95"/>
<line x1="144.76" y1="910.50" x2="144.76" y2="911.90" stroke="#76716c" stroke-width="0.95"/>
<line x1="149.58" y1="910.50" x2="149.58" y2="911.90" stroke="#76716c" stroke-width="0.95"/>
<line x1="154.40" y1="910.50" x2="154.40" y2="911.90" stroke="#76716c" stroke-width="0.95"/>
<text x="101.40" y="918.10" font-size="5.00" text-anchor="middle">9.6</text>
<text x="116.00" y="918.10" font-size="5.00" text-anchor="middle">9</text>
<text x="125.90" y="918.10" font-size="5.00" text-anchor="middle">8.6</text>
<text x="139.90" y="918.10" font-size="5.00" text-anchor="middle">8</text>
<text x="149.50" y="918.10" font-size="5.00" text-anchor="middle">7.6</text>
<text x="27.10" y="922.68" font-size="6.05">p_CRTAM</text>
<line x1="101.40" y1="921.50" x2="290.30" y2="921.50" stroke="#76716c" stroke-width="0.95"/>
<line x1="101.40" y1="921.50" x2="101.40" y2="922.90" stroke="#76716c" stroke-width="0.95"/>
<line x1="128.39" y1="921.50" x2="128.39" y2="922.90" stroke="#76716c" stroke-width="0.95"/>
<line x1="155.37" y1="921.50" x2="155.37" y2="922.90" stroke="#76716c" stroke-width="0.95"/>
<line x1="182.36" y1="921.50" x2="182.36" y2="922.90" stroke="#76716c" stroke-width="0.95"/>
<line x1="209.34" y1="921.50" x2="209.34" y2="922.90" stroke="#76716c" stroke-width="0.95"/>
<line x1="236.33" y1="921.50" x2="236.33" y2="922.90" stroke="#76716c" stroke-width="0.95"/>
<line x1="263.31" y1="921.50" x2="263.31" y2="922.90" stroke="#76716c" stroke-width="0.95"/>
<line x1="290.30" y1="921.50" x2="290.30" y2="922.90" stroke="#76716c" stroke-width="0.95"/>
<text x="101.40" y="929.10" font-size="5.00" text-anchor="middle">6.5</text>
<text x="128.39" y="929.10" font-size="5.00" text-anchor="middle">6</text>
<text x="155.38" y="929.10" font-size="5.00" text-anchor="middle">5.5</text>
<text x="182.37" y="929.10" font-size="5.00" text-anchor="middle">5</text>
<text x="209.36" y="929.10" font-size="5.00" text-anchor="middle">4.5</text>
<text x="236.35" y="929.10" font-size="5.00" text-anchor="middle">4</text>
<text x="263.34" y="929.10" font-size="5.00" text-anchor="middle">3.5</text>
<text x="290.33" y="929.10" font-size="5.00" text-anchor="middle">3</text>
<text x="27.10" y="933.18" font-size="6.05">p_IL13</text>
<line x1="101.40" y1="932.50" x2="141.20" y2="932.50" stroke="#76716c" stroke-width="0.95"/>
<line x1="101.40" y1="932.50" x2="101.40" y2="933.90" stroke="#76716c" stroke-width="0.95"/>
<line x1="106.38" y1="932.50" x2="106.38" y2="933.90" stroke="#76716c" stroke-width="0.95"/>
<line x1="111.35" y1="932.50" x2="111.35" y2="933.90" stroke="#76716c" stroke-width="0.95"/>
<line x1="116.33" y1="932.50" x2="116.33" y2="933.90" stroke="#76716c" stroke-width="0.95"/>
<line x1="121.30" y1="932.50" x2="121.30" y2="933.90" stroke="#76716c" stroke-width="0.95"/>
<line x1="126.27" y1="932.50" x2="126.27" y2="933.90" stroke="#76716c" stroke-width="0.95"/>
<line x1="131.25" y1="932.50" x2="131.25" y2="933.90" stroke="#76716c" stroke-width="0.95"/>
<line x1="136.22" y1="932.50" x2="136.22" y2="933.90" stroke="#76716c" stroke-width="0.95"/>
<line x1="141.20" y1="932.50" x2="141.20" y2="933.90" stroke="#76716c" stroke-width="0.95"/>
<text x="101.40" y="940.00" font-size="5.00" text-anchor="middle">−2</text>
<text x="116.20" y="940.00" font-size="5.00" text-anchor="middle">−0.5</text>
<text x="131.00" y="940.00" font-size="5.00" text-anchor="middle">1</text>
<text x="141.00" y="940.00" font-size="5.00" text-anchor="middle">2</text>
<text x="27.10" y="944.98" font-size="6.05">p_IL33</text>
<line x1="101.40" y1="943.50" x2="132.40" y2="943.50" stroke="#76716c" stroke-width="0.95"/>
<line x1="101.40" y1="943.50" x2="101.40" y2="944.90" stroke="#76716c" stroke-width="0.95"/>
<line x1="105.28" y1="943.50" x2="105.28" y2="944.90" stroke="#76716c" stroke-width="0.95"/>
<line x1="109.15" y1="943.50" x2="109.15" y2="944.90" stroke="#76716c" stroke-width="0.95"/>
<line x1="113.03" y1="943.50" x2="113.03" y2="944.90" stroke="#76716c" stroke-width="0.95"/>
<line x1="116.90" y1="943.50" x2="116.90" y2="944.90" stroke="#76716c" stroke-width="0.95"/>
<line x1="120.78" y1="943.50" x2="120.78" y2="944.90" stroke="#76716c" stroke-width="0.95"/>
<line x1="124.65" y1="943.50" x2="124.65" y2="944.90" stroke="#76716c" stroke-width="0.95"/>
<line x1="128.53" y1="943.50" x2="128.53" y2="944.90" stroke="#76716c" stroke-width="0.95"/>
<line x1="132.40" y1="943.50" x2="132.40" y2="944.90" stroke="#76716c" stroke-width="0.95"/>
<text x="101.40" y="951.40" font-size="5.00" text-anchor="middle">0.8</text>
<text x="113.50" y="951.40" font-size="5.00" text-anchor="middle">0.2</text>
<text x="130.00" y="951.40" font-size="5.00" text-anchor="middle">−0.6</text>
<text x="27.10" y="956.08" font-size="6.05">p_IL4</text>
<line x1="101.40" y1="954.50" x2="235.00" y2="954.50" stroke="#76716c" stroke-width="0.95"/>
<line x1="101.40" y1="954.50" x2="101.40" y2="955.90" stroke="#76716c" stroke-width="0.95"/>
<line x1="116.24" y1="954.50" x2="116.24" y2="955.90" stroke="#76716c" stroke-width="0.95"/>
<line x1="131.09" y1="954.50" x2="131.09" y2="955.90" stroke="#76716c" stroke-width="0.95"/>
<line x1="145.93" y1="954.50" x2="145.93" y2="955.90" stroke="#76716c" stroke-width="0.95"/>
<line x1="160.78" y1="954.50" x2="160.78" y2="955.90" stroke="#76716c" stroke-width="0.95"/>
<line x1="175.62" y1="954.50" x2="175.62" y2="955.90" stroke="#76716c" stroke-width="0.95"/>
<line x1="190.47" y1="954.50" x2="190.47" y2="955.90" stroke="#76716c" stroke-width="0.95"/>
<line x1="205.31" y1="954.50" x2="205.31" y2="955.90" stroke="#76716c" stroke-width="0.95"/>
<line x1="220.16" y1="954.50" x2="220.16" y2="955.90" stroke="#76716c" stroke-width="0.95"/>
<line x1="235.00" y1="954.50" x2="235.00" y2="955.90" stroke="#76716c" stroke-width="0.95"/>
<text x="101.40" y="962.60" font-size="5.00" text-anchor="middle">−1</text>
<text x="116.24" y="962.60" font-size="5.00" text-anchor="middle">−0.5</text>
<text x="131.08" y="962.60" font-size="5.00" text-anchor="middle">0</text>
<text x="145.92" y="962.60" font-size="5.00" text-anchor="middle">0.5</text>
<text x="160.76" y="962.60" font-size="5.00" text-anchor="middle">1</text>
<text x="175.60" y="962.60" font-size="5.00" text-anchor="middle">1.5</text>
<text x="190.44" y="962.60" font-size="5.00" text-anchor="middle">2</text>
<text x="205.28" y="962.60" font-size="5.00" text-anchor="middle">2.5</text>
<text x="220.12" y="962.60" font-size="5.00" text-anchor="middle">3</text>
<text x="234.96" y="962.60" font-size="5.00" text-anchor="middle">3.5</text>
<text x="27.10" y="967.78" font-size="6.05">Total Points</text>
<line x1="101.40" y1="965.50" x2="315.20" y2="965.50" stroke="#76716c" stroke-width="0.95"/>
<line x1="101.40" y1="965.50" x2="101.40" y2="967.30" stroke="#76716c" stroke-width="0.95"/>
<line x1="106.75" y1="965.50" x2="106.75" y2="966.50" stroke="#76716c" stroke-width="0.95"/>
<line x1="112.09" y1="965.50" x2="112.09" y2="966.50" stroke="#76716c" stroke-width="0.95"/>
<line x1="117.44" y1="965.50" x2="117.44" y2="966.50" stroke="#76716c" stroke-width="0.95"/>
<line x1="122.78" y1="965.50" x2="122.78" y2="966.50" stroke="#76716c" stroke-width="0.95"/>
<line x1="128.12" y1="965.50" x2="128.12" y2="967.30" stroke="#76716c" stroke-width="0.95"/>
<line x1="133.47" y1="965.50" x2="133.47" y2="966.50" stroke="#76716c" stroke-width="0.95"/>
<line x1="138.81" y1="965.50" x2="138.81" y2="966.50" stroke="#76716c" stroke-width="0.95"/>
<line x1="144.16" y1="965.50" x2="144.16" y2="966.50" stroke="#76716c" stroke-width="0.95"/>
<line x1="149.50" y1="965.50" x2="149.50" y2="966.50" stroke="#76716c" stroke-width="0.95"/>
<line x1="154.85" y1="965.50" x2="154.85" y2="967.30" stroke="#76716c" stroke-width="0.95"/>
<line x1="160.19" y1="965.50" x2="160.19" y2="966.50" stroke="#76716c" stroke-width="0.95"/>
<line x1="165.54" y1="965.50" x2="165.54" y2="966.50" stroke="#76716c" stroke-width="0.95"/>
<line x1="170.88" y1="965.50" x2="170.88" y2="966.50" stroke="#76716c" stroke-width="0.95"/>
<line x1="176.23" y1="965.50" x2="176.23" y2="966.50" stroke="#76716c" stroke-width="0.95"/>
<line x1="181.57" y1="965.50" x2="181.57" y2="967.30" stroke="#76716c" stroke-width="0.95"/>
<line x1="186.92" y1="965.50" x2="186.92" y2="966.50" stroke="#76716c" stroke-width="0.95"/>
<line x1="192.26" y1="965.50" x2="192.26" y2="966.50" stroke="#76716c" stroke-width="0.95"/>
<line x1="197.61" y1="965.50" x2="197.61" y2="966.50" stroke="#76716c" stroke-width="0.95"/>
<line x1="202.95" y1="965.50" x2="202.95" y2="966.50" stroke="#76716c" stroke-width="0.95"/>
<line x1="208.30" y1="965.50" x2="208.30" y2="967.30" stroke="#76716c" stroke-width="0.95"/>
<line x1="213.64" y1="965.50" x2="213.64" y2="966.50" stroke="#76716c" stroke-width="0.95"/>
<line x1="218.99" y1="965.50" x2="218.99" y2="966.50" stroke="#76716c" stroke-width="0.95"/>
<line x1="224.33" y1="965.50" x2="224.33" y2="966.50" stroke="#76716c" stroke-width="0.95"/>
<line x1="229.68" y1="965.50" x2="229.68" y2="966.50" stroke="#76716c" stroke-width="0.95"/>
<line x1="235.03" y1="965.50" x2="235.03" y2="967.30" stroke="#76716c" stroke-width="0.95"/>
<line x1="240.37" y1="965.50" x2="240.37" y2="966.50" stroke="#76716c" stroke-width="0.95"/>
<line x1="245.72" y1="965.50" x2="245.72" y2="966.50" stroke="#76716c" stroke-width="0.95"/>
<line x1="251.06" y1="965.50" x2="251.06" y2="966.50" stroke="#76716c" stroke-width="0.95"/>
<line x1="256.40" y1="965.50" x2="256.40" y2="966.50" stroke="#76716c" stroke-width="0.95"/>
<line x1="261.75" y1="965.50" x2="261.75" y2="967.30" stroke="#76716c" stroke-width="0.95"/>
<line x1="267.10" y1="965.50" x2="267.10" y2="966.50" stroke="#76716c" stroke-width="0.95"/>
<line x1="272.44" y1="965.50" x2="272.44" y2="966.50" stroke="#76716c" stroke-width="0.95"/>
<line x1="277.78" y1="965.50" x2="277.78" y2="966.50" stroke="#76716c" stroke-width="0.95"/>
<line x1="283.13" y1="965.50" x2="283.13" y2="966.50" stroke="#76716c" stroke-width="0.95"/>
<line x1="288.48" y1="965.50" x2="288.48" y2="967.30" stroke="#76716c" stroke-width="0.95"/>
<line x1="293.82" y1="965.50" x2="293.82" y2="966.50" stroke="#76716c" stroke-width="0.95"/>
<line x1="299.16" y1="965.50" x2="299.16" y2="966.50" stroke="#76716c" stroke-width="0.95"/>
<line x1="304.51" y1="965.50" x2="304.51" y2="966.50" stroke="#76716c" stroke-width="0.95"/>
<line x1="309.86" y1="965.50" x2="309.86" y2="966.50" stroke="#76716c" stroke-width="0.95"/>
<line x1="315.20" y1="965.50" x2="315.20" y2="967.30" stroke="#76716c" stroke-width="0.95"/>
<text x="101.40" y="973.90" font-size="5.00" text-anchor="middle">0</text>
<text x="128.12" y="973.90" font-size="5.00" text-anchor="middle">50</text>
<text x="154.85" y="973.90" font-size="5.00" text-anchor="middle">100</text>
<text x="181.57" y="973.90" font-size="5.00" text-anchor="middle">150</text>
<text x="208.30" y="973.90" font-size="5.00" text-anchor="middle">200</text>
<text x="235.02" y="973.90" font-size="5.00" text-anchor="middle">250</text>
<text x="261.75" y="973.90" font-size="5.00" text-anchor="middle">300</text>
<text x="288.48" y="973.90" font-size="5.00" text-anchor="middle">350</text>
<text x="315.20" y="973.90" font-size="5.00" text-anchor="middle">400</text>
<text x="27.10" y="979.08" font-size="6.05">6−month survival</text>
<line x1="196.40" y1="976.50" x2="224.30" y2="976.50" stroke="#76716c" stroke-width="0.95"/>
<line x1="196.40" y1="976.50" x2="196.40" y2="978.10" stroke="#76716c" stroke-width="0.95"/>
<line x1="208.00" y1="976.50" x2="208.00" y2="978.10" stroke="#76716c" stroke-width="0.95"/>
<line x1="215.70" y1="976.50" x2="215.70" y2="978.10" stroke="#76716c" stroke-width="0.95"/>
<line x1="224.30" y1="976.50" x2="224.30" y2="978.10" stroke="#76716c" stroke-width="0.95"/>
<text x="196.70" y="984.70" font-size="5.00" text-anchor="middle">0.8</text>
<text x="208.00" y="984.70" font-size="5.00" text-anchor="middle">0.6</text>
<text x="215.40" y="984.70" font-size="5.00" text-anchor="middle">0.4</text>
<text x="222.80" y="984.70" font-size="5.00" text-anchor="middle">0.2</text>
<text x="27.10" y="989.98" font-size="6.05">9−month survival</text>
<line x1="190.40" y1="988.50" x2="297.60" y2="988.50" stroke="#76716c" stroke-width="0.95"/>
<line x1="190.40" y1="988.50" x2="190.40" y2="990.10" stroke="#76716c" stroke-width="0.95"/>
<line x1="198.10" y1="988.50" x2="198.10" y2="990.10" stroke="#76716c" stroke-width="0.95"/>
<line x1="205.90" y1="988.50" x2="205.90" y2="990.10" stroke="#76716c" stroke-width="0.95"/>
<line x1="297.60" y1="988.50" x2="297.60" y2="990.10" stroke="#76716c" stroke-width="0.95"/>
<text x="190.00" y="996.00" font-size="5.00" text-anchor="middle">0.6</text>
<text x="197.60" y="996.00" font-size="5.00" text-anchor="middle">0.4</text>
<text x="205.20" y="996.00" font-size="5.00" text-anchor="middle">0.2</text>
<text x="297.60" y="996.00" font-size="5.00" text-anchor="middle">0</text>
<text x="27.10" y="1001.08" font-size="6.05">12−month survival</text>
<line x1="187.10" y1="999.50" x2="296.30" y2="999.50" stroke="#76716c" stroke-width="0.95"/>
<line x1="187.10" y1="999.50" x2="187.10" y2="1001.10" stroke="#76716c" stroke-width="0.95"/>
<line x1="194.80" y1="999.50" x2="194.80" y2="1001.10" stroke="#76716c" stroke-width="0.95"/>
<line x1="202.50" y1="999.50" x2="202.50" y2="1001.10" stroke="#76716c" stroke-width="0.95"/>
<line x1="296.30" y1="999.50" x2="296.30" y2="1001.10" stroke="#76716c" stroke-width="0.95"/>
<text x="186.70" y="1006.80" font-size="5.00" text-anchor="middle">0.6</text>
<text x="194.30" y="1006.80" font-size="5.00" text-anchor="middle">0.4</text>
<text x="201.90" y="1006.80" font-size="5.00" text-anchor="middle">0.2</text>
<text x="296.30" y="1006.80" font-size="5.00" text-anchor="middle">0</text>
<text class="lr" x="361.10" y="814.60" font-size="20.00">H</text>
<text x="379.90" y="822.17" font-size="5.75">Points</text>
<line x1="450.50" y1="819.50" x2="652.20" y2="819.50" stroke="#76716c" stroke-width="0.95"/>
<line x1="450.50" y1="819.50" x2="450.50" y2="817.50" stroke="#76716c" stroke-width="0.95"/>
<line x1="455.54" y1="819.50" x2="455.54" y2="818.40" stroke="#76716c" stroke-width="0.95"/>
<line x1="460.58" y1="819.50" x2="460.58" y2="818.40" stroke="#76716c" stroke-width="0.95"/>
<line x1="465.63" y1="819.50" x2="465.63" y2="818.40" stroke="#76716c" stroke-width="0.95"/>
<line x1="470.67" y1="819.50" x2="470.67" y2="817.50" stroke="#76716c" stroke-width="0.95"/>
<line x1="475.71" y1="819.50" x2="475.71" y2="818.40" stroke="#76716c" stroke-width="0.95"/>
<line x1="480.75" y1="819.50" x2="480.75" y2="818.40" stroke="#76716c" stroke-width="0.95"/>
<line x1="485.80" y1="819.50" x2="485.80" y2="818.40" stroke="#76716c" stroke-width="0.95"/>
<line x1="490.84" y1="819.50" x2="490.84" y2="817.50" stroke="#76716c" stroke-width="0.95"/>
<line x1="495.88" y1="819.50" x2="495.88" y2="818.40" stroke="#76716c" stroke-width="0.95"/>
<line x1="500.93" y1="819.50" x2="500.93" y2="818.40" stroke="#76716c" stroke-width="0.95"/>
<line x1="505.97" y1="819.50" x2="505.97" y2="818.40" stroke="#76716c" stroke-width="0.95"/>
<line x1="511.01" y1="819.50" x2="511.01" y2="817.50" stroke="#76716c" stroke-width="0.95"/>
<line x1="516.05" y1="819.50" x2="516.05" y2="818.40" stroke="#76716c" stroke-width="0.95"/>
<line x1="521.10" y1="819.50" x2="521.10" y2="818.40" stroke="#76716c" stroke-width="0.95"/>
<line x1="526.14" y1="819.50" x2="526.14" y2="818.40" stroke="#76716c" stroke-width="0.95"/>
<line x1="531.18" y1="819.50" x2="531.18" y2="817.50" stroke="#76716c" stroke-width="0.95"/>
<line x1="536.22" y1="819.50" x2="536.22" y2="818.40" stroke="#76716c" stroke-width="0.95"/>
<line x1="541.26" y1="819.50" x2="541.26" y2="818.40" stroke="#76716c" stroke-width="0.95"/>
<line x1="546.31" y1="819.50" x2="546.31" y2="818.40" stroke="#76716c" stroke-width="0.95"/>
<line x1="551.35" y1="819.50" x2="551.35" y2="817.50" stroke="#76716c" stroke-width="0.95"/>
<line x1="556.39" y1="819.50" x2="556.39" y2="818.40" stroke="#76716c" stroke-width="0.95"/>
<line x1="561.44" y1="819.50" x2="561.44" y2="818.40" stroke="#76716c" stroke-width="0.95"/>
<line x1="566.48" y1="819.50" x2="566.48" y2="818.40" stroke="#76716c" stroke-width="0.95"/>
<line x1="571.52" y1="819.50" x2="571.52" y2="817.50" stroke="#76716c" stroke-width="0.95"/>
<line x1="576.56" y1="819.50" x2="576.56" y2="818.40" stroke="#76716c" stroke-width="0.95"/>
<line x1="581.61" y1="819.50" x2="581.61" y2="818.40" stroke="#76716c" stroke-width="0.95"/>
<line x1="586.65" y1="819.50" x2="586.65" y2="818.40" stroke="#76716c" stroke-width="0.95"/>
<line x1="591.69" y1="819.50" x2="591.69" y2="817.50" stroke="#76716c" stroke-width="0.95"/>
<line x1="596.73" y1="819.50" x2="596.73" y2="818.40" stroke="#76716c" stroke-width="0.95"/>
<line x1="601.78" y1="819.50" x2="601.78" y2="818.40" stroke="#76716c" stroke-width="0.95"/>
<line x1="606.82" y1="819.50" x2="606.82" y2="818.40" stroke="#76716c" stroke-width="0.95"/>
<line x1="611.86" y1="819.50" x2="611.86" y2="817.50" stroke="#76716c" stroke-width="0.95"/>
<line x1="616.90" y1="819.50" x2="616.90" y2="818.40" stroke="#76716c" stroke-width="0.95"/>
<line x1="621.95" y1="819.50" x2="621.95" y2="818.40" stroke="#76716c" stroke-width="0.95"/>
<line x1="626.99" y1="819.50" x2="626.99" y2="818.40" stroke="#76716c" stroke-width="0.95"/>
<line x1="632.03" y1="819.50" x2="632.03" y2="817.50" stroke="#76716c" stroke-width="0.95"/>
<line x1="637.07" y1="819.50" x2="637.07" y2="818.40" stroke="#76716c" stroke-width="0.95"/>
<line x1="642.12" y1="819.50" x2="642.12" y2="818.40" stroke="#76716c" stroke-width="0.95"/>
<line x1="647.16" y1="819.50" x2="647.16" y2="818.40" stroke="#76716c" stroke-width="0.95"/>
<line x1="652.20" y1="819.50" x2="652.20" y2="817.50" stroke="#76716c" stroke-width="0.95"/>
<text x="450.50" y="815.60" font-size="5.00" text-anchor="middle">0</text>
<text x="470.67" y="815.60" font-size="5.00" text-anchor="middle">10</text>
<text x="490.84" y="815.60" font-size="5.00" text-anchor="middle">20</text>
<text x="511.01" y="815.60" font-size="5.00" text-anchor="middle">30</text>
<text x="531.18" y="815.60" font-size="5.00" text-anchor="middle">40</text>
<text x="551.35" y="815.60" font-size="5.00" text-anchor="middle">50</text>
<text x="571.52" y="815.60" font-size="5.00" text-anchor="middle">60</text>
<text x="591.69" y="815.60" font-size="5.00" text-anchor="middle">70</text>
<text x="611.86" y="815.60" font-size="5.00" text-anchor="middle">80</text>
<text x="632.03" y="815.60" font-size="5.00" text-anchor="middle">90</text>
<text x="652.20" y="815.60" font-size="5.00" text-anchor="middle">100</text>
<text x="379.90" y="831.47" font-size="5.75">g_ARID1A</text>
<line x1="450.50" y1="831.00" x2="452.20" y2="831.00" stroke="#76716c" stroke-width="0.95"/>
<line x1="450.50" y1="831.00" x2="450.50" y2="832.60" stroke="#76716c" stroke-width="0.8"/>
<line x1="452.20" y1="831.00" x2="452.60" y2="829.60" stroke="#76716c" stroke-width="0.8"/>
<text x="452.00" y="825.86" font-size="4.60" text-anchor="middle">1</text>
<text x="379.90" y="842.27" font-size="5.75">g_MSH6</text>
<line x1="450.50" y1="840.50" x2="455.60" y2="840.50" stroke="#76716c" stroke-width="0.95"/>
<line x1="450.50" y1="840.50" x2="450.50" y2="842.50" stroke="#76716c" stroke-width="0.95"/>
<line x1="455.60" y1="840.50" x2="455.60" y2="838.50" stroke="#76716c" stroke-width="0.95"/>
<text x="450.50" y="838.90" font-size="5.00" text-anchor="middle">0</text>
<text x="455.60" y="835.80" font-size="5.00" text-anchor="middle">1</text>
<text x="379.90" y="851.97" font-size="5.75">g_NOTCH1</text>
<line x1="450.50" y1="850.50" x2="580.30" y2="850.50" stroke="#76716c" stroke-width="0.95"/>
<line x1="450.50" y1="850.50" x2="450.50" y2="852.50" stroke="#76716c" stroke-width="0.95"/>
<line x1="580.30" y1="850.50" x2="580.30" y2="848.50" stroke="#76716c" stroke-width="0.95"/>
<text x="450.50" y="848.90" font-size="5.00" text-anchor="middle">0</text>
<text x="580.30" y="846.50" font-size="5.00" text-anchor="middle">1</text>
<text x="379.90" y="862.57" font-size="5.75">g_TNFAIP3</text>
<line x1="450.50" y1="860.50" x2="652.40" y2="860.50" stroke="#76716c" stroke-width="0.95"/>
<line x1="450.50" y1="860.50" x2="450.50" y2="862.50" stroke="#76716c" stroke-width="0.95"/>
<line x1="652.40" y1="860.50" x2="652.40" y2="858.50" stroke="#76716c" stroke-width="0.95"/>
<text x="450.50" y="859.20" font-size="5.00" text-anchor="middle">0</text>
<text x="652.40" y="856.60" font-size="5.00" text-anchor="middle">1</text>
<text x="379.90" y="872.37" font-size="5.75">g_SDHC</text>
<line x1="450.50" y1="870.50" x2="469.80" y2="870.50" stroke="#76716c" stroke-width="0.95"/>
<line x1="450.50" y1="870.50" x2="450.50" y2="872.50" stroke="#76716c" stroke-width="0.95"/>
<line x1="469.80" y1="870.50" x2="469.80" y2="868.50" stroke="#76716c" stroke-width="0.95"/>
<text x="450.50" y="869.10" font-size="5.00" text-anchor="middle">0</text>
<text x="469.80" y="867.10" font-size="5.00" text-anchor="middle">1</text>
<text x="379.90" y="882.67" font-size="5.75">g_PKHD1</text>
<line x1="450.50" y1="881.50" x2="572.30" y2="881.50" stroke="#76716c" stroke-width="0.95"/>
<line x1="450.50" y1="881.50" x2="450.50" y2="883.50" stroke="#76716c" stroke-width="0.95"/>
<line x1="572.30" y1="881.50" x2="572.30" y2="879.50" stroke="#76716c" stroke-width="0.95"/>
<text x="450.50" y="879.80" font-size="5.00" text-anchor="middle">0</text>
<text x="572.30" y="877.00" font-size="5.00" text-anchor="middle">0</text>
<text x="379.90" y="893.37" font-size="5.75">g_NRAS</text>
<line x1="450.50" y1="891.50" x2="617.50" y2="891.50" stroke="#55514d" stroke-width="0.95"/>
<line x1="450.50" y1="891.50" x2="450.50" y2="893.50" stroke="#76716c" stroke-width="0.95"/>
<line x1="617.50" y1="891.50" x2="617.50" y2="889.50" stroke="#76716c" stroke-width="0.95"/>
<text x="450.50" y="890.10" font-size="5.00" text-anchor="middle">1</text>
<text x="617.50" y="887.60" font-size="5.00" text-anchor="middle">1</text>
<text x="379.90" y="903.17" font-size="5.75">g_AR</text>
<line x1="450.50" y1="901.50" x2="585.40" y2="901.50" stroke="#a9a5a1" stroke-width="0.95"/>
<line x1="450.50" y1="901.50" x2="450.50" y2="903.50" stroke="#76716c" stroke-width="0.95"/>
<line x1="585.40" y1="901.50" x2="585.40" y2="899.50" stroke="#76716c" stroke-width="0.95"/>
<text x="450.50" y="900.10" font-size="5.00" text-anchor="middle">0</text>
<text x="585.40" y="897.80" font-size="5.00" text-anchor="middle">1</text>
<text x="379.90" y="913.77" font-size="5.75">p_IFN−gamma</text>
<rect x="450.50" y="911.70" width="16.00" height="2.00" fill="#333"/>
<text x="450.50" y="909.93" font-size="4.80" text-anchor="middle">0</text>
<text x="451.50" y="920.00" font-size="5.00" text-anchor="middle">4.5</text>
<text x="459.70" y="920.00" font-size="5.00" text-anchor="middle">9</text>
<text x="379.90" y="924.07" font-size="5.75">p_IL−1</text>
<line x1="450.50" y1="923.50" x2="521.20" y2="923.50" stroke="#76716c" stroke-width="0.95"/>
<line x1="450.50" y1="923.50" x2="450.50" y2="925.10" stroke="#76716c" stroke-width="0.95"/>
<line x1="455.21" y1="923.50" x2="455.21" y2="925.10" stroke="#76716c" stroke-width="0.95"/>
<line x1="459.93" y1="923.50" x2="459.93" y2="925.10" stroke="#76716c" stroke-width="0.95"/>
<line x1="464.64" y1="923.50" x2="464.64" y2="925.10" stroke="#76716c" stroke-width="0.95"/>
<line x1="469.35" y1="923.50" x2="469.35" y2="925.10" stroke="#76716c" stroke-width="0.95"/>
<line x1="474.07" y1="923.50" x2="474.07" y2="925.10" stroke="#76716c" stroke-width="0.95"/>
<line x1="478.78" y1="923.50" x2="478.78" y2="925.10" stroke="#76716c" stroke-width="0.95"/>
<line x1="483.49" y1="923.50" x2="483.49" y2="925.10" stroke="#76716c" stroke-width="0.95"/>
<line x1="488.21" y1="923.50" x2="488.21" y2="925.10" stroke="#76716c" stroke-width="0.95"/>
<line x1="492.92" y1="923.50" x2="492.92" y2="925.10" stroke="#76716c" stroke-width="0.95"/>
<line x1="497.63" y1="923.50" x2="497.63" y2="925.10" stroke="#76716c" stroke-width="0.95"/>
<line x1="502.35" y1="923.50" x2="502.35" y2="925.10" stroke="#76716c" stroke-width="0.95"/>
<line x1="507.06" y1="923.50" x2="507.06" y2="925.10" stroke="#76716c" stroke-width="0.95"/>
<line x1="511.77" y1="923.50" x2="511.77" y2="925.10" stroke="#76716c" stroke-width="0.95"/>
<line x1="516.49" y1="923.50" x2="516.49" y2="925.10" stroke="#76716c" stroke-width="0.95"/>
<line x1="521.20" y1="923.50" x2="521.20" y2="925.10" stroke="#76716c" stroke-width="0.95"/>
<text x="452.00" y="930.60" font-size="5.00" text-anchor="middle">4.5</text>
<text x="464.60" y="930.60" font-size="5.00" text-anchor="middle">3</text>
<text x="474.00" y="930.60" font-size="5.00" text-anchor="middle">2</text>
<text x="483.60" y="930.60" font-size="5.00" text-anchor="middle">1</text>
<text x="493.20" y="930.60" font-size="5.00" text-anchor="middle">0</text>
<text x="502.80" y="930.60" font-size="5.00" text-anchor="middle">−1</text>
<text x="517.00" y="930.60" font-size="5.00" text-anchor="middle">−2.5</text>
<text x="379.90" y="934.27" font-size="5.75">p_IL13</text>
<rect x="450.50" y="932.50" width="3.40" height="2.00" fill="#111"/>
<text x="451.50" y="940.60" font-size="5.00" text-anchor="middle">−2</text>
<text x="379.90" y="944.37" font-size="5.75">p_MUC−16</text>
<rect x="450.50" y="942.30" width="8.70" height="2.00" fill="#111"/>
<text x="451.80" y="950.80" font-size="5.00" text-anchor="middle">1.5</text>
<text x="379.90" y="954.87" font-size="5.75">p_VEGFR−2</text>
<rect x="450.50" y="952.30" width="3.60" height="2.00" fill="#111"/>
<text x="452.00" y="961.20" font-size="5.00" text-anchor="middle">5.4</text>
<text x="379.90" y="965.57" font-size="5.75">Total Points</text>
<line x1="450.50" y1="963.50" x2="651.90" y2="963.50" stroke="#76716c" stroke-width="0.95"/>
<line x1="450.50" y1="963.50" x2="450.50" y2="965.30" stroke="#76716c" stroke-width="0.95"/>
<line x1="454.16" y1="963.50" x2="454.16" y2="964.50" stroke="#76716c" stroke-width="0.95"/>
<line x1="457.82" y1="963.50" x2="457.82" y2="964.50" stroke="#76716c" stroke-width="0.95"/>
<line x1="461.49" y1="963.50" x2="461.49" y2="964.50" stroke="#76716c" stroke-width="0.95"/>
<line x1="465.15" y1="963.50" x2="465.15" y2="964.50" stroke="#76716c" stroke-width="0.95"/>
<line x1="468.81" y1="963.50" x2="468.81" y2="965.30" stroke="#76716c" stroke-width="0.95"/>
<line x1="472.47" y1="963.50" x2="472.47" y2="964.50" stroke="#76716c" stroke-width="0.95"/>
<line x1="476.13" y1="963.50" x2="476.13" y2="964.50" stroke="#76716c" stroke-width="0.95"/>
<line x1="479.79" y1="963.50" x2="479.79" y2="964.50" stroke="#76716c" stroke-width="0.95"/>
<line x1="483.46" y1="963.50" x2="483.46" y2="964.50" stroke="#76716c" stroke-width="0.95"/>
<line x1="487.12" y1="963.50" x2="487.12" y2="965.30" stroke="#76716c" stroke-width="0.95"/>
<line x1="490.78" y1="963.50" x2="490.78" y2="964.50" stroke="#76716c" stroke-width="0.95"/>
<line x1="494.44" y1="963.50" x2="494.44" y2="964.50" stroke="#76716c" stroke-width="0.95"/>
<line x1="498.10" y1="963.50" x2="498.10" y2="964.50" stroke="#76716c" stroke-width="0.95"/>
<line x1="501.77" y1="963.50" x2="501.77" y2="964.50" stroke="#76716c" stroke-width="0.95"/>
<line x1="505.43" y1="963.50" x2="505.43" y2="965.30" stroke="#76716c" stroke-width="0.95"/>
<line x1="509.09" y1="963.50" x2="509.09" y2="964.50" stroke="#76716c" stroke-width="0.95"/>
<line x1="512.75" y1="963.50" x2="512.75" y2="964.50" stroke="#76716c" stroke-width="0.95"/>
<line x1="516.41" y1="963.50" x2="516.41" y2="964.50" stroke="#76716c" stroke-width="0.95"/>
<line x1="520.07" y1="963.50" x2="520.07" y2="964.50" stroke="#76716c" stroke-width="0.95"/>
<line x1="523.74" y1="963.50" x2="523.74" y2="965.30" stroke="#76716c" stroke-width="0.95"/>
<line x1="527.40" y1="963.50" x2="527.40" y2="964.50" stroke="#76716c" stroke-width="0.95"/>
<line x1="531.06" y1="963.50" x2="531.06" y2="964.50" stroke="#76716c" stroke-width="0.95"/>
<line x1="534.72" y1="963.50" x2="534.72" y2="964.50" stroke="#76716c" stroke-width="0.95"/>
<line x1="538.38" y1="963.50" x2="538.38" y2="964.50" stroke="#76716c" stroke-width="0.95"/>
<line x1="542.05" y1="963.50" x2="542.05" y2="965.30" stroke="#76716c" stroke-width="0.95"/>
<line x1="545.71" y1="963.50" x2="545.71" y2="964.50" stroke="#76716c" stroke-width="0.95"/>
<line x1="549.37" y1="963.50" x2="549.37" y2="964.50" stroke="#76716c" stroke-width="0.95"/>
<line x1="553.03" y1="963.50" x2="553.03" y2="964.50" stroke="#76716c" stroke-width="0.95"/>
<line x1="556.69" y1="963.50" x2="556.69" y2="964.50" stroke="#76716c" stroke-width="0.95"/>
<line x1="560.35" y1="963.50" x2="560.35" y2="965.30" stroke="#76716c" stroke-width="0.95"/>
<line x1="564.02" y1="963.50" x2="564.02" y2="964.50" stroke="#76716c" stroke-width="0.95"/>
<line x1="567.68" y1="963.50" x2="567.68" y2="964.50" stroke="#76716c" stroke-width="0.95"/>
<line x1="571.34" y1="963.50" x2="571.34" y2="964.50" stroke="#76716c" stroke-width="0.95"/>
<line x1="575.00" y1="963.50" x2="575.00" y2="964.50" stroke="#76716c" stroke-width="0.95"/>
<line x1="578.66" y1="963.50" x2="578.66" y2="965.30" stroke="#76716c" stroke-width="0.95"/>
<line x1="582.33" y1="963.50" x2="582.33" y2="964.50" stroke="#76716c" stroke-width="0.95"/>
<line x1="585.99" y1="963.50" x2="585.99" y2="964.50" stroke="#76716c" stroke-width="0.95"/>
<line x1="589.65" y1="963.50" x2="589.65" y2="964.50" stroke="#76716c" stroke-width="0.95"/>
<line x1="593.31" y1="963.50" x2="593.31" y2="964.50" stroke="#76716c" stroke-width="0.95"/>
<line x1="596.97" y1="963.50" x2="596.97" y2="965.30" stroke="#76716c" stroke-width="0.95"/>
<line x1="600.63" y1="963.50" x2="600.63" y2="964.50" stroke="#76716c" stroke-width="0.95"/>
<line x1="604.30" y1="963.50" x2="604.30" y2="964.50" stroke="#76716c" stroke-width="0.95"/>
<line x1="607.96" y1="963.50" x2="607.96" y2="964.50" stroke="#76716c" stroke-width="0.95"/>
<line x1="611.62" y1="963.50" x2="611.62" y2="964.50" stroke="#76716c" stroke-width="0.95"/>
<line x1="615.28" y1="963.50" x2="615.28" y2="965.30" stroke="#76716c" stroke-width="0.95"/>
<line x1="618.94" y1="963.50" x2="618.94" y2="964.50" stroke="#76716c" stroke-width="0.95"/>
<line x1="622.61" y1="963.50" x2="622.61" y2="964.50" stroke="#76716c" stroke-width="0.95"/>
<line x1="626.27" y1="963.50" x2="626.27" y2="964.50" stroke="#76716c" stroke-width="0.95"/>
<line x1="629.93" y1="963.50" x2="629.93" y2="964.50" stroke="#76716c" stroke-width="0.95"/>
<line x1="633.59" y1="963.50" x2="633.59" y2="965.30" stroke="#76716c" stroke-width="0.95"/>
<line x1="637.25" y1="963.50" x2="637.25" y2="964.50" stroke="#76716c" stroke-width="0.95"/>
<line x1="640.91" y1="963.50" x2="640.91" y2="964.50" stroke="#76716c" stroke-width="0.95"/>
<line x1="644.58" y1="963.50" x2="644.58" y2="964.50" stroke="#76716c" stroke-width="0.95"/>
<line x1="648.24" y1="963.50" x2="648.24" y2="964.50" stroke="#76716c" stroke-width="0.95"/>
<line x1="651.90" y1="963.50" x2="651.90" y2="965.30" stroke="#76716c" stroke-width="0.95"/>
<text x="450.50" y="971.30" font-size="5.00" text-anchor="middle">0</text>
<text x="468.81" y="971.30" font-size="5.00" text-anchor="middle">20</text>
<text x="487.12" y="971.30" font-size="5.00" text-anchor="middle">40</text>
<text x="505.43" y="971.30" font-size="5.00" text-anchor="middle">60</text>
<text x="523.74" y="971.30" font-size="5.00" text-anchor="middle">80</text>
<text x="542.05" y="971.30" font-size="5.00" text-anchor="middle">100</text>
<text x="560.35" y="971.30" font-size="5.00" text-anchor="middle">120</text>
<text x="578.66" y="971.30" font-size="5.00" text-anchor="middle">140</text>
<text x="596.97" y="971.30" font-size="5.00" text-anchor="middle">160</text>
<text x="615.28" y="971.30" font-size="5.00" text-anchor="middle">180</text>
<text x="633.59" y="971.30" font-size="5.00" text-anchor="middle">200</text>
<text x="651.90" y="971.30" font-size="5.00" text-anchor="middle">220</text>
<text x="379.90" y="975.27" font-size="5.75">1−year survival</text>
<line x1="535.90" y1="973.50" x2="598.40" y2="973.50" stroke="#76716c" stroke-width="0.95"/>
<line x1="535.90" y1="973.50" x2="535.90" y2="975.10" stroke="#76716c" stroke-width="0.95"/>
<line x1="538.50" y1="973.50" x2="538.50" y2="975.10" stroke="#76716c" stroke-width="0.95"/>
<line x1="598.40" y1="973.50" x2="598.40" y2="975.10" stroke="#76716c" stroke-width="0.95"/>
<text x="534.00" y="980.52" font-size="3.40" text-anchor="middle">0.8</text>
<text x="540.60" y="980.52" font-size="3.40" text-anchor="middle">0.4</text>
<text x="598.40" y="981.40" font-size="5.00" text-anchor="middle">0</text>
<text x="379.90" y="985.17" font-size="5.75">1.5−year survival</text>
<line x1="534.10" y1="984.50" x2="597.90" y2="984.50" stroke="#76716c" stroke-width="0.95"/>
<line x1="534.10" y1="984.50" x2="534.10" y2="986.10" stroke="#76716c" stroke-width="0.95"/>
<line x1="536.80" y1="984.50" x2="536.80" y2="986.10" stroke="#76716c" stroke-width="0.95"/>
<line x1="597.90" y1="984.50" x2="597.90" y2="986.10" stroke="#76716c" stroke-width="0.95"/>
<text x="532.30" y="990.32" font-size="3.40" text-anchor="middle">0.8</text>
<text x="539.00" y="990.32" font-size="3.40" text-anchor="middle">0.4</text>
<text x="597.90" y="991.20" font-size="5.00" text-anchor="middle">0</text>
<text x="379.90" y="995.37" font-size="5.75">2−year survival</text>
<line x1="533.40" y1="994.50" x2="597.70" y2="994.50" stroke="#76716c" stroke-width="0.95"/>
<line x1="533.40" y1="994.50" x2="533.40" y2="996.10" stroke="#76716c" stroke-width="0.95"/>
<line x1="536.10" y1="994.50" x2="536.10" y2="996.10" stroke="#76716c" stroke-width="0.95"/>
<line x1="597.70" y1="994.50" x2="597.70" y2="996.10" stroke="#76716c" stroke-width="0.95"/>
<text x="531.60" y="1000.62" font-size="3.40" text-anchor="middle">0.8</text>
<text x="538.40" y="1000.62" font-size="3.40" text-anchor="middle">0.4</text>
<text x="597.70" y="1001.50" font-size="5.00" text-anchor="middle">0</text>
</svg>
</body></html>
